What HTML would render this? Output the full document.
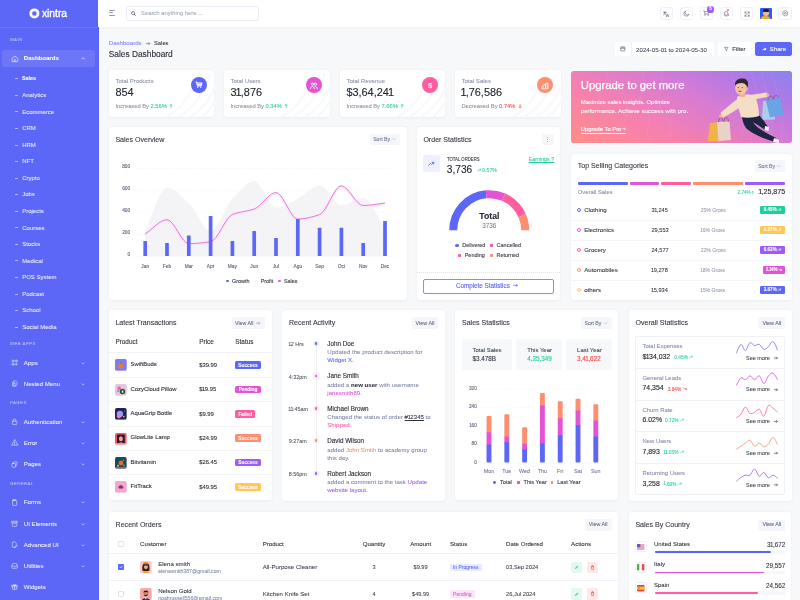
<!DOCTYPE html>
<html><head><meta charset="utf-8"><title>Sales Dashboard</title>
<style>
*{box-sizing:border-box;margin:0;padding:0}
html,body{width:800px;height:600px;overflow:hidden}
body{position:relative;will-change:transform;background:#f7f8f9;font-family:"Liberation Sans",Arial,sans-serif;color:#262a33}
.t{position:absolute;white-space:nowrap;line-height:1;-webkit-text-stroke:0.07px currentColor}
svg{position:absolute;overflow:visible}
</style></head><body>

<div style="position:absolute;left:0px;top:0px;width:98.6px;height:600px;background:#5c67f7;border-right:0.8px solid #5560f2;"></div>
<div style="position:absolute;left:98.6px;top:0px;width:0.6000000000000085px;height:600px;background:#fff;"></div>
<div style="position:absolute;left:0px;top:26.5px;width:97.8px;height:0.5px;background:rgba(255,255,255,0.1);"></div>
<svg style="left:29.2px;top:7.9px" width="10.8" height="10.8" viewBox="0 0 22 22"><circle cx="11" cy="11" r="7.4" fill="none" stroke="#fff" stroke-width="5.6"/><g fill="none" stroke="rgba(92,103,247,0.35)" stroke-width="0.9"><path d="M11 3.6 C14 5 15 7 14.5 9"/><path d="M18.4 11 C17 14 15 15 13 14.5"/><path d="M11 18.4 C8 17 7 15 7.5 13"/><path d="M3.6 11 C5 8 7 7 9 7.5"/></g></svg>
<div class="t" style="top:8.65px;font-size:10.3px;color:#fff;left:41.90px;-webkit-text-stroke:0.35px #fff;">xintra</div>
<div class="t" style="top:37.90px;font-size:4.4px;color:rgba(255,255,255,0.5);letter-spacing:0.4px;left:10.00px;">MAIN</div>
<div class="t" style="top:341.70px;font-size:4.4px;color:rgba(255,255,255,0.5);letter-spacing:0.4px;left:10.00px;">WEB APPS</div>
<div class="t" style="top:401.40px;font-size:4.4px;color:rgba(255,255,255,0.5);letter-spacing:0.4px;left:10.00px;">PAGES</div>
<div class="t" style="top:481.70px;font-size:4.4px;color:rgba(255,255,255,0.5);letter-spacing:0.4px;left:10.00px;">GENERAL</div>
<div style="position:absolute;left:1.7px;top:49.7px;width:93.0px;height:17.0px;background:rgba(255,255,255,0.1);border-radius:2.5px;"></div>
<div class="t" style="top:55.27px;font-size:6.05px;color:#fff;font-weight:700;left:23.80px;">Dashboards</div>
<div style="position:absolute;left:15px;top:78.30000000000001px;width:2.8000000000000007px;height:0.5999999999999943px;background:rgba(255,255,255,0.55);"></div>
<div class="t" style="top:76.10px;font-size:5.4px;color:#fff;font-weight:700;left:22.00px;">Sales</div>
<div style="position:absolute;left:15px;top:94.86000000000001px;width:2.8000000000000007px;height:0.5999999999999943px;background:rgba(255,255,255,0.55);"></div>
<div class="t" style="top:92.11px;font-size:6.0px;color:rgba(255,255,255,0.86);left:22.20px;">Analytics</div>
<div style="position:absolute;left:15px;top:111.42000000000002px;width:2.8000000000000007px;height:0.5999999999999943px;background:rgba(255,255,255,0.55);"></div>
<div class="t" style="top:108.67px;font-size:6.0px;color:rgba(255,255,255,0.86);left:22.20px;">Ecommerce</div>
<div style="position:absolute;left:15px;top:127.97999999999999px;width:2.8000000000000007px;height:0.5999999999999943px;background:rgba(255,255,255,0.55);"></div>
<div class="t" style="top:125.23px;font-size:6.0px;color:rgba(255,255,255,0.86);left:22.20px;">CRM</div>
<div style="position:absolute;left:15px;top:144.54px;width:2.8000000000000007px;height:0.5999999999999943px;background:rgba(255,255,255,0.55);"></div>
<div class="t" style="top:141.79px;font-size:6.0px;color:rgba(255,255,255,0.86);left:22.20px;">HRM</div>
<div style="position:absolute;left:15px;top:161.1px;width:2.8000000000000007px;height:0.5999999999999943px;background:rgba(255,255,255,0.55);"></div>
<div class="t" style="top:158.35px;font-size:6.0px;color:rgba(255,255,255,0.86);left:22.20px;">NFT</div>
<div style="position:absolute;left:15px;top:177.66px;width:2.8000000000000007px;height:0.5999999999999943px;background:rgba(255,255,255,0.55);"></div>
<div class="t" style="top:174.91px;font-size:6.0px;color:rgba(255,255,255,0.86);left:22.20px;">Crypto</div>
<div style="position:absolute;left:15px;top:194.22px;width:2.8000000000000007px;height:0.5999999999999943px;background:rgba(255,255,255,0.55);"></div>
<div class="t" style="top:191.47px;font-size:6.0px;color:rgba(255,255,255,0.86);left:22.20px;">Jobs</div>
<div style="position:absolute;left:15px;top:210.78px;width:2.8000000000000007px;height:0.5999999999999943px;background:rgba(255,255,255,0.55);"></div>
<div class="t" style="top:208.03px;font-size:6.0px;color:rgba(255,255,255,0.86);left:22.20px;">Projects</div>
<div style="position:absolute;left:15px;top:227.34px;width:2.8000000000000007px;height:0.5999999999999943px;background:rgba(255,255,255,0.55);"></div>
<div class="t" style="top:224.59px;font-size:6.0px;color:rgba(255,255,255,0.86);left:22.20px;">Courses</div>
<div style="position:absolute;left:15px;top:243.9px;width:2.8000000000000007px;height:0.5999999999999943px;background:rgba(255,255,255,0.55);"></div>
<div class="t" style="top:241.15px;font-size:6.0px;color:rgba(255,255,255,0.86);left:22.20px;">Stocks</div>
<div style="position:absolute;left:15px;top:260.46px;width:2.8000000000000007px;height:0.6000000000000227px;background:rgba(255,255,255,0.55);"></div>
<div class="t" style="top:257.71px;font-size:6.0px;color:rgba(255,255,255,0.86);left:22.20px;">Medical</div>
<div style="position:absolute;left:15px;top:277.02px;width:2.8000000000000007px;height:0.6000000000000227px;background:rgba(255,255,255,0.55);"></div>
<div class="t" style="top:274.27px;font-size:6.0px;color:rgba(255,255,255,0.86);left:22.20px;">POS System</div>
<div style="position:absolute;left:15px;top:293.5799999999999px;width:2.8000000000000007px;height:0.6000000000000227px;background:rgba(255,255,255,0.55);"></div>
<div class="t" style="top:290.83px;font-size:6.0px;color:rgba(255,255,255,0.86);left:22.20px;">Podcast</div>
<div style="position:absolute;left:15px;top:310.14px;width:2.8000000000000007px;height:0.6000000000000227px;background:rgba(255,255,255,0.55);"></div>
<div class="t" style="top:307.39px;font-size:6.0px;color:rgba(255,255,255,0.86);left:22.20px;">School</div>
<div style="position:absolute;left:15px;top:326.69999999999993px;width:2.8000000000000007px;height:0.6000000000000227px;background:rgba(255,255,255,0.55);"></div>
<div class="t" style="top:323.95px;font-size:6.0px;color:rgba(255,255,255,0.86);left:22.20px;">Social Media</div>
<div class="t" style="top:359.75px;font-size:6.1px;color:rgba(255,255,255,0.9);left:23.80px;">Apps</div>
<svg style="left:80.8px;top:361.60px" width="4.2" height="3" viewBox="0 0 4.2 3"><path d="M0.6 0.6 L2.1 2.1 L3.6 0.6" fill="none" stroke="rgba(255,255,255,0.8)" stroke-width="0.65"/></svg>
<svg style="left:10.8px;top:359.20px" width="7.2" height="7.2" viewBox="0 0 24 24"><g fill="none" stroke="rgba(255,255,255,0.88)" stroke-width="1.9" stroke-linecap="round" stroke-linejoin="round"><circle cx="6.5" cy="6.5" r="3.5"/><circle cx="17.5" cy="6.5" r="3.5"/><circle cx="6.5" cy="17.5" r="3.5"/><path d="M17.5 14v7M14 17.5h7"/></g></svg>
<div class="t" style="top:380.75px;font-size:6.1px;color:rgba(255,255,255,0.9);left:23.80px;">Nested Menu</div>
<svg style="left:80.8px;top:382.60px" width="4.2" height="3" viewBox="0 0 4.2 3"><path d="M0.6 0.6 L2.1 2.1 L3.6 0.6" fill="none" stroke="rgba(255,255,255,0.8)" stroke-width="0.65"/></svg>
<svg style="left:10.8px;top:380.20px" width="7.2" height="7.2" viewBox="0 0 24 24"><g fill="none" stroke="rgba(255,255,255,0.88)" stroke-width="1.9" stroke-linecap="round" stroke-linejoin="round"><path d="M5 8v12a1 1 0 0 0 1 1h9"/><path d="M8 4a1 1 0 0 1 1-1h6l5 5v9a1 1 0 0 1-1 1H9a1 1 0 0 1-1-1z"/><path d="M12 9v4h4"/></g></svg>
<div class="t" style="top:418.65px;font-size:6.1px;color:rgba(255,255,255,0.9);left:23.80px;">Authentication</div>
<svg style="left:80.8px;top:420.50px" width="4.2" height="3" viewBox="0 0 4.2 3"><path d="M0.6 0.6 L2.1 2.1 L3.6 0.6" fill="none" stroke="rgba(255,255,255,0.8)" stroke-width="0.65"/></svg>
<svg style="left:10.8px;top:418.10px" width="7.2" height="7.2" viewBox="0 0 24 24"><g fill="none" stroke="rgba(255,255,255,0.88)" stroke-width="1.9" stroke-linecap="round" stroke-linejoin="round"><rect x="4.5" y="10.5" width="15" height="11" rx="2"/><path d="M8 10.5V7a4 4 0 0 1 8 0v3.5"/></g></svg>
<div class="t" style="top:439.95px;font-size:6.1px;color:rgba(255,255,255,0.9);left:23.80px;">Error</div>
<svg style="left:80.8px;top:441.80px" width="4.2" height="3" viewBox="0 0 4.2 3"><path d="M0.6 0.6 L2.1 2.1 L3.6 0.6" fill="none" stroke="rgba(255,255,255,0.8)" stroke-width="0.65"/></svg>
<svg style="left:10.8px;top:439.40px" width="7.2" height="7.2" viewBox="0 0 24 24"><g fill="none" stroke="rgba(255,255,255,0.88)" stroke-width="1.9" stroke-linecap="round" stroke-linejoin="round"><path d="M12 3L2 20.5h20z"/><path d="M12 10v4.5M12 17.3v0.2"/></g></svg>
<div class="t" style="top:461.45px;font-size:6.1px;color:rgba(255,255,255,0.9);left:23.80px;">Pages</div>
<svg style="left:80.8px;top:463.30px" width="4.2" height="3" viewBox="0 0 4.2 3"><path d="M0.6 0.6 L2.1 2.1 L3.6 0.6" fill="none" stroke="rgba(255,255,255,0.8)" stroke-width="0.65"/></svg>
<svg style="left:10.8px;top:460.90px" width="7.2" height="7.2" viewBox="0 0 24 24"><g fill="none" stroke="rgba(255,255,255,0.88)" stroke-width="1.9" stroke-linecap="round" stroke-linejoin="round"><rect x="3.5" y="8" width="11.5" height="13" rx="1.5"/><path d="M8 8V4.5A1.5 1.5 0 0 1 9.5 3h9A1.5 1.5 0 0 1 20 4.5v10a1.5 1.5 0 0 1-1.5 1.5H15"/></g></svg>
<div class="t" style="top:499.45px;font-size:6.1px;color:rgba(255,255,255,0.9);left:23.80px;">Forms</div>
<svg style="left:80.8px;top:501.30px" width="4.2" height="3" viewBox="0 0 4.2 3"><path d="M0.6 0.6 L2.1 2.1 L3.6 0.6" fill="none" stroke="rgba(255,255,255,0.8)" stroke-width="0.65"/></svg>
<svg style="left:10.8px;top:498.90px" width="7.2" height="7.2" viewBox="0 0 24 24"><g fill="none" stroke="rgba(255,255,255,0.88)" stroke-width="1.9" stroke-linecap="round" stroke-linejoin="round"><rect x="5" y="4" width="14" height="17.5" rx="2"/><path d="M9 2.5h6v3H9z"/></g></svg>
<div class="t" style="top:520.65px;font-size:6.1px;color:rgba(255,255,255,0.9);left:23.80px;">UI Elements</div>
<svg style="left:80.8px;top:522.50px" width="4.2" height="3" viewBox="0 0 4.2 3"><path d="M0.6 0.6 L2.1 2.1 L3.6 0.6" fill="none" stroke="rgba(255,255,255,0.8)" stroke-width="0.65"/></svg>
<svg style="left:10.8px;top:520.10px" width="7.2" height="7.2" viewBox="0 0 24 24"><g fill="none" stroke="rgba(255,255,255,0.88)" stroke-width="1.9" stroke-linecap="round" stroke-linejoin="round"><path d="M3 4h18v4H3z"/><path d="M4.5 8v11.5a1.5 1.5 0 0 0 1.5 1.5h12a1.5 1.5 0 0 0 1.5-1.5V8"/><path d="M9.5 12h5"/></g></svg>
<div class="t" style="top:541.65px;font-size:6.1px;color:rgba(255,255,255,0.9);left:23.80px;">Advanced UI</div>
<svg style="left:80.8px;top:543.50px" width="4.2" height="3" viewBox="0 0 4.2 3"><path d="M0.6 0.6 L2.1 2.1 L3.6 0.6" fill="none" stroke="rgba(255,255,255,0.8)" stroke-width="0.65"/></svg>
<svg style="left:10.8px;top:541.10px" width="7.2" height="7.2" viewBox="0 0 24 24"><g fill="none" stroke="rgba(255,255,255,0.88)" stroke-width="1.9" stroke-linecap="round" stroke-linejoin="round"><path d="M14 21H6a1.5 1.5 0 0 1-1.5-1.5v-15A1.5 1.5 0 0 1 6 3h7l5 5v3"/><path d="M13 21l1-3 5-5 2 2-5 5z"/></g></svg>
<div class="t" style="top:562.75px;font-size:6.1px;color:rgba(255,255,255,0.9);left:23.80px;">Utilities</div>
<svg style="left:80.8px;top:564.60px" width="4.2" height="3" viewBox="0 0 4.2 3"><path d="M0.6 0.6 L2.1 2.1 L3.6 0.6" fill="none" stroke="rgba(255,255,255,0.8)" stroke-width="0.65"/></svg>
<svg style="left:10.8px;top:562.20px" width="7.2" height="7.2" viewBox="0 0 24 24"><g fill="none" stroke="rgba(255,255,255,0.88)" stroke-width="1.9" stroke-linecap="round" stroke-linejoin="round"><path d="M3 13l3-8h12l3 8v6a2 2 0 0 1-2 2H5a2 2 0 0 1-2-2z"/><path d="M3 13h5l1.5 2.5h5L16 13h5"/></g></svg>
<div class="t" style="top:583.95px;font-size:6.1px;color:rgba(255,255,255,0.9);left:23.80px;">Widgets</div>
<svg style="left:10.8px;top:583.40px" width="7.2" height="7.2" viewBox="0 0 24 24"><g fill="none" stroke="rgba(255,255,255,0.88)" stroke-width="1.9" stroke-linecap="round" stroke-linejoin="round"><rect x="3" y="8" width="18" height="4.5"/><path d="M5 12.5v8.5h14v-8.5M12 8v13"/><path d="M12 8C10 4 6.5 4 7 6.5S12 8 12 8zM12 8c2-4 5.5-4 5-1.5S12 8 12 8z"/></g></svg>
<svg style="left:80.8px;top:56.9px" width="4.4" height="3" viewBox="0 0 4.4 3"><path d="M0.6 2.3 L2.2 0.7 L3.8 2.3" fill="none" stroke="#fff" stroke-width="0.7"/></svg>
<svg style="left:10.5px;top:54.5px" width="7.8" height="7.6" viewBox="0 0 24 24"><path d="M3 10.5 L12 3.5 L21 10.5 V19.5 A1.5 1.5 0 0 1 19.5 21 H4.5 A1.5 1.5 0 0 1 3 19.5 Z M9.5 21 V16.5 A2.5 2.5 0 0 1 14.5 16.5 V21" fill="none" stroke="#fff" stroke-width="1.9" stroke-linejoin="round"/></svg>
<div style="position:absolute;left:98px;top:0px;width:702px;height:27px;background:#fff;box-shadow:0 0.5px 3px rgba(20,30,60,0.05);"></div>
<div style="position:absolute;left:108.5px;top:9.799999999999999px;width:6.799999999999997px;height:0.8000000000000007px;background:#8f98ad;border-radius:0.4px;"></div>
<div style="position:absolute;left:108.5px;top:12.4px;width:4.799999999999997px;height:0.8000000000000007px;background:#8f98ad;border-radius:0.4px;"></div>
<div style="position:absolute;left:108.5px;top:15.0px;width:6.799999999999997px;height:0.8000000000000007px;background:#8f98ad;border-radius:0.4px;"></div>
<div style="position:absolute;left:125.5px;top:6.4px;width:133.89999999999998px;height:14.200000000000001px;border:0.5px solid #e9ecf4;border-radius:2.5px;background:#fff;"></div>
<svg style="left:130.6px;top:11.0px" width="5" height="5" viewBox="0 0 10 10"><circle cx="4.3" cy="4.3" r="3.1" fill="none" stroke="#4f5668" stroke-width="1.4"/><path d="M6.6 6.6 L9 9" stroke="#4f5668" stroke-width="1.5" stroke-linecap="round"/></svg>
<div class="t" style="top:10.68px;font-size:5.85px;color:#a3a9b9;left:141.00px;">Search anything here ...</div>
<div style="position:absolute;left:659.5px;top:7.1px;width:13.299999999999955px;height:13.200000000000001px;border:0.5px solid #eef0f6;border-radius:2.5px;background:#fff;"></div>
<div style="position:absolute;left:679.5px;top:7.1px;width:13.299999999999955px;height:13.200000000000001px;border:0.5px solid #eef0f6;border-radius:2.5px;background:#fff;"></div>
<div style="position:absolute;left:699.5px;top:7.1px;width:13.299999999999955px;height:13.200000000000001px;border:0.5px solid #eef0f6;border-radius:2.5px;background:#fff;"></div>
<div style="position:absolute;left:719.8px;top:7.1px;width:13.299999999999955px;height:13.200000000000001px;border:0.5px solid #eef0f6;border-radius:2.5px;background:#fff;"></div>
<div style="position:absolute;left:740px;top:7.1px;width:13.299999999999955px;height:13.200000000000001px;border:0.5px solid #eef0f6;border-radius:2.5px;background:#fff;"></div>
<div style="position:absolute;left:760px;top:7.9px;width:12px;height:11.6px;background:#3d5af1;border-radius:1.5px;"></div>
<div style="position:absolute;left:778.4px;top:7.1px;width:13.200000000000045px;height:13.200000000000001px;border:0.5px solid #eef0f6;border-radius:2.5px;background:#fff;"></div>
<div class="t" style="top:40.45px;font-size:6.1px;color:#7b84f5;left:108.75px;">Dashboards</div>
<svg style="left:0;top:0" width="800" height="600" viewBox="0 0 800 600"><path d="M146.20,43.60 H149.80 M148.70,42.50 L149.80,43.60 L148.70,44.70" fill="none" stroke="#555a66" stroke-width="0.55" stroke-linecap="round" stroke-linejoin="round"/></svg>
<div class="t" style="top:40.60px;font-size:5.8px;color:#333;left:154.00px;">Sales</div>
<div class="t" style="top:50.23px;font-size:8.35px;color:#2a2e38;-webkit-text-stroke:0.12px #2a2e38;left:108.75px;">Sales Dashboard</div>
<div style="position:absolute;left:614.75px;top:42.1px;width:99.04999999999995px;height:14.299999999999997px;background:#fff;border-radius:2.5px;"></div>
<div style="position:absolute;left:614.75px;top:42.1px;width:16.75px;height:14.299999999999997px;background:#fff;border-right:0.5px solid #f0f1f5;border-radius:2.5px 0 0 2.5px;"></div>
<svg style="left:620.2px;top:46.4px" width="5.6" height="5.6" viewBox="0 0 24 24"><g fill="none" stroke="#4f5668" stroke-width="2.6" stroke-linejoin="round"><rect x="3" y="4.5" width="18" height="16.5" rx="2"/><path d="M3 10h18M8 2.5v4M16 2.5v4"/></g></svg>
<div class="t" style="top:46.50px;font-size:6.2px;color:#454a56;left:636.00px;">2024-05-0<span style="margin:0 -0.08em">1</span> to 2024-05-30</div>
<div style="position:absolute;left:718px;top:42.1px;width:32.89999999999998px;height:14.299999999999997px;background:#fff;border-radius:2.5px;"></div>
<div class="t" style="top:46.55px;font-size:5.9px;color:#333846;-webkit-text-stroke:0.1px #333846;left:732.30px;">Filter</div>
<div style="position:absolute;left:755.4px;top:42.1px;width:36.60000000000002px;height:14.299999999999997px;background:#5c67f7;border-radius:2.5px;"></div>
<div class="t" style="top:46.40px;font-size:6.2px;color:#fff;-webkit-text-stroke:0.1px #fff;left:769.60px;">Share</div>
<svg style="left:724.2px;top:47.2px" width="4.6" height="4.2" viewBox="0 0 24 22"><path d="M2 2h20l-7.5 9v8l-5-2v-6z" fill="none" stroke="#4f5668" stroke-width="2.8" stroke-linejoin="round"/></svg>
<svg style="left:761.8px;top:46.7px" width="5" height="4.6" viewBox="0 0 24 22"><path d="M13 2l9 8-9 8v-5C7 13 4 15 2 19c0-7 4-11 11-12z" fill="#fff"/></svg>
<div style="position:absolute;left:109px;top:70.2px;width:105px;height:46.8px;background:#fff;border-radius:3.5px;box-shadow:0 0.5px 3px rgba(30,40,80,0.055);"></div>
<div style="position:absolute;left:224px;top:70.2px;width:105.5px;height:46.8px;background:#fff;border-radius:3.5px;box-shadow:0 0.5px 3px rgba(30,40,80,0.055);"></div>
<div style="position:absolute;left:340px;top:70.2px;width:105px;height:46.8px;background:#fff;border-radius:3.5px;box-shadow:0 0.5px 3px rgba(30,40,80,0.055);"></div>
<div style="position:absolute;left:455px;top:70.2px;width:105.5px;height:46.8px;background:#fff;border-radius:3.5px;box-shadow:0 0.5px 3px rgba(30,40,80,0.055);"></div>
<div style="position:absolute;left:571px;top:70.5px;width:221px;height:72.5px;border-radius:3.5px;background:linear-gradient(60deg,#ff8c8f 0%,#f97fae 35%,#d77ad8 65%,#9f7ef5 100%);"></div>
<div style="position:absolute;left:109px;top:127.3px;width:297.8px;height:172.89999999999998px;background:#fff;border-radius:3.5px;box-shadow:0 0.5px 3px rgba(30,40,80,0.055);"></div>
<div style="position:absolute;left:416.7px;top:127.3px;width:143.8px;height:172.89999999999998px;background:#fff;border-radius:3.5px;box-shadow:0 0.5px 3px rgba(30,40,80,0.055);"></div>
<div style="position:absolute;left:571px;top:154.2px;width:221px;height:145.8px;background:#fff;border-radius:3.5px;box-shadow:0 0.5px 3px rgba(30,40,80,0.055);"></div>
<div style="position:absolute;left:109px;top:310.3px;width:163px;height:189.89999999999998px;background:#fff;border-radius:3.5px;box-shadow:0 0.5px 3px rgba(30,40,80,0.055);"></div>
<div style="position:absolute;left:282.3px;top:310.3px;width:162.7px;height:190.3px;background:#fff;border-radius:3.5px;box-shadow:0 0.5px 3px rgba(30,40,80,0.055);"></div>
<div style="position:absolute;left:455.3px;top:310.3px;width:162.90000000000003px;height:190.2px;background:#fff;border-radius:3.5px;box-shadow:0 0.5px 3px rgba(30,40,80,0.055);"></div>
<div style="position:absolute;left:628.8px;top:310.3px;width:163.20000000000005px;height:190.5px;background:#fff;border-radius:3.5px;box-shadow:0 0.5px 3px rgba(30,40,80,0.055);"></div>
<div style="position:absolute;left:108.8px;top:512.2px;width:509.7px;height:107.79999999999995px;background:#fff;border-radius:3.5px;box-shadow:0 0.5px 3px rgba(30,40,80,0.055);"></div>
<div style="position:absolute;left:629px;top:512.2px;width:162.39999999999998px;height:107.79999999999995px;background:#fff;border-radius:3.5px;box-shadow:0 0.5px 3px rgba(30,40,80,0.055);"></div>
<svg style="left:164px;top:70.2px" width="50" height="46.8" viewBox="0 0 50 46.8"><g fill="none" stroke="#f8f9fb" stroke-width="2.2"><path d="M2 47 C20 38 30 20 36 0"/><path d="M14 47 C30 38 40 22 46 4"/><path d="M26 47 C40 38 48 26 52 14"/><path d="M38 47 C46 40 50 34 53 28"/></g></svg>
<div class="t" style="top:78.17px;font-size:6.05px;color:#8b92a6;left:115.40px;">Total Products</div>
<div class="t" style="top:86.85px;font-size:10.9px;color:#23262f;-webkit-text-stroke:0.12px #23262f;left:115.40px;">854</div>
<div class="t" style="left:115.4px;top:103.60px;font-size:5.75px;color:#8b92a6">Increased By <span style="color:#21ce9e">2.56%</span> <svg style="position:relative;display:inline-block;vertical-align:-0.3px;margin-left:0.6px" width="4.2" height="4.2" viewBox="0 0 10 10" preserveAspectRatio="none"><path d="M5,9 V1 M2,4 L5,1 L8,4" fill="none" stroke="#21ce9e" stroke-width="1.55" stroke-linecap="round" stroke-linejoin="round"/></svg></div>
<div style="position:absolute;left:190.75px;top:76.95px;width:16.5px;height:16.5px;border-radius:50%;background:#5c67f7"></div>
<svg style="left:195.2px;top:81.4px" width="7.6" height="7.6" viewBox="0 0 24 24"><g fill="none" stroke="#fff" stroke-width="3.4" stroke-linejoin="round"><path d="M2.5 3.5h3l2 12h12l2-9H6.5"/><path d="M8 10.5h12"/></g><circle cx="8.5" cy="20" r="2" fill="#fff"/><circle cx="18" cy="20" r="2" fill="#fff"/></svg>
<svg style="left:279px;top:70.2px" width="50" height="46.8" viewBox="0 0 50 46.8"><g fill="none" stroke="#f8f9fb" stroke-width="2.2"><path d="M2 47 C20 38 30 20 36 0"/><path d="M14 47 C30 38 40 22 46 4"/><path d="M26 47 C40 38 48 26 52 14"/><path d="M38 47 C46 40 50 34 53 28"/></g></svg>
<div class="t" style="top:78.17px;font-size:6.05px;color:#8b92a6;left:230.40px;">Total Users</div>
<div class="t" style="top:86.85px;font-size:10.9px;color:#23262f;-webkit-text-stroke:0.12px #23262f;left:230.40px;">3<span style="margin:0 -0.08em">1</span>,876</div>
<div class="t" style="left:230.4px;top:103.60px;font-size:5.75px;color:#8b92a6">Increased By <span style="color:#21ce9e">0.34%</span> <svg style="position:relative;display:inline-block;vertical-align:-0.3px;margin-left:0.6px" width="4.2" height="4.2" viewBox="0 0 10 10" preserveAspectRatio="none"><path d="M5,9 V1 M2,4 L5,1 L8,4" fill="none" stroke="#21ce9e" stroke-width="1.55" stroke-linecap="round" stroke-linejoin="round"/></svg></div>
<div style="position:absolute;left:305.75px;top:76.95px;width:16.5px;height:16.5px;border-radius:50%;background:#e354d4"></div>
<svg style="left:310.10px;top:81.70px" width="7.8" height="7.4" viewBox="0 0 26 24"><g fill="none" stroke="#fff" stroke-width="2.8" stroke-linecap="round"><circle cx="8" cy="6.5" r="3.8"/><circle cx="18" cy="6.5" r="3.8"/><path d="M1.5 22c0-5 3-7.5 6.5-7.5s6.5 2.5 6.5 7.5"/><path d="M16.5 14.6c4.5-0.5 7.5 2 7.5 7.4"/></g></svg>
<svg style="left:395px;top:70.2px" width="50" height="46.8" viewBox="0 0 50 46.8"><g fill="none" stroke="#f8f9fb" stroke-width="2.2"><path d="M2 47 C20 38 30 20 36 0"/><path d="M14 47 C30 38 40 22 46 4"/><path d="M26 47 C40 38 48 26 52 14"/><path d="M38 47 C46 40 50 34 53 28"/></g></svg>
<div class="t" style="top:78.17px;font-size:6.05px;color:#8b92a6;left:346.40px;">Total Revenue</div>
<div class="t" style="top:86.85px;font-size:10.9px;color:#23262f;-webkit-text-stroke:0.12px #23262f;left:346.40px;">$3,64,24<span style="margin:0 -0.08em">1</span></div>
<div class="t" style="left:346.4px;top:103.60px;font-size:5.75px;color:#8b92a6">Increased By <span style="color:#21ce9e">7.66%</span> <svg style="position:relative;display:inline-block;vertical-align:-0.3px;margin-left:0.6px" width="4.2" height="4.2" viewBox="0 0 10 10" preserveAspectRatio="none"><path d="M5,9 V1 M2,4 L5,1 L8,4" fill="none" stroke="#21ce9e" stroke-width="1.55" stroke-linecap="round" stroke-linejoin="round"/></svg></div>
<div style="position:absolute;left:421.75px;top:76.95px;width:16.5px;height:16.5px;border-radius:50%;background:#ff5d9f"></div>
<div class="t" style="top:81.65px;font-size:7.5px;color:#fff;left:430.00px;transform:translateX(-50%);">$</div>
<svg style="left:510px;top:70.2px" width="50" height="46.8" viewBox="0 0 50 46.8"><g fill="none" stroke="#f8f9fb" stroke-width="2.2"><path d="M2 47 C20 38 30 20 36 0"/><path d="M14 47 C30 38 40 22 46 4"/><path d="M26 47 C40 38 48 26 52 14"/><path d="M38 47 C46 40 50 34 53 28"/></g></svg>
<div class="t" style="top:78.17px;font-size:6.05px;color:#8b92a6;left:461.40px;">Total Sales</div>
<div class="t" style="top:86.85px;font-size:10.9px;color:#23262f;-webkit-text-stroke:0.12px #23262f;left:461.40px;"><span style="margin:0 -0.08em">1</span>,76,586</div>
<div class="t" style="left:461.4px;top:103.60px;font-size:5.75px;color:#8b92a6">Decreased By <span style="color:#fb4242">0.74%</span> <svg style="position:relative;display:inline-block;vertical-align:-0.3px;margin-left:0.6px" width="4.2" height="4.2" viewBox="0 0 10 10" preserveAspectRatio="none"><path d="M5,1 V9 M2,6 L5,9 L8,6" fill="none" stroke="#fb4242" stroke-width="1.55" stroke-linecap="round" stroke-linejoin="round"/></svg></div>
<div style="position:absolute;left:536.75px;top:76.95px;width:16.5px;height:16.5px;border-radius:50%;background:#ff8e6f"></div>
<svg style="left:541.10px;top:81.90px" width="7.8" height="7.2" viewBox="0 0 26 24"><g fill="none" stroke="#fff" stroke-width="2.8" stroke-linejoin="round" stroke-linecap="round"><path d="M2.5 21.5V14.5L20 3.5h3.5v18z"/><path d="M9 21.5v-6M15 21.5V10M20.5 21.5V6"/></g></svg>
<div class="t" style="top:135.88px;font-size:7.05px;color:#343842;-webkit-text-stroke:0.1px #343842;left:115.40px;">Sales Overview</div>
<div style="position:absolute;left:369.7px;top:133.9px;width:30.0px;height:11.099999999999994px;background:#f5f6f9;border-radius:2px;"></div>
<div class="t" style="top:137.07px;font-size:5.15px;color:#6b7390;left:373.20px;">Sort By</div>
<svg style="left:392.10px;top:138.35px" width="3.6" height="2.4" viewBox="0 0 3.6 2.4"><path d="M0.4 0.5 L1.8 1.9 L3.2 0.5" fill="none" stroke="#8a90a8" stroke-width="0.45"/></svg>
<div class="t" style="top:164.90px;font-size:4.8px;color:#5f6680;-webkit-text-stroke:0.12px #5f6680;right:669.80px;">800</div>
<div class="t" style="top:186.90px;font-size:4.8px;color:#5f6680;-webkit-text-stroke:0.12px #5f6680;right:669.80px;">600</div>
<div class="t" style="top:208.90px;font-size:4.8px;color:#5f6680;-webkit-text-stroke:0.12px #5f6680;right:669.80px;">400</div>
<div class="t" style="top:230.90px;font-size:4.8px;color:#5f6680;-webkit-text-stroke:0.12px #5f6680;right:669.80px;">200</div>
<div class="t" style="top:253.40px;font-size:4.8px;color:#5f6680;-webkit-text-stroke:0.12px #5f6680;right:669.80px;">0</div>
<div class="t" style="top:264.50px;font-size:4.8px;color:#5f6680;-webkit-text-stroke:0.12px #5f6680;left:145.20px;transform:translateX(-50%);">Jan</div>
<div class="t" style="top:264.50px;font-size:4.8px;color:#5f6680;-webkit-text-stroke:0.12px #5f6680;left:167.00px;transform:translateX(-50%);">Feb</div>
<div class="t" style="top:264.50px;font-size:4.8px;color:#5f6680;-webkit-text-stroke:0.12px #5f6680;left:188.80px;transform:translateX(-50%);">Mar</div>
<div class="t" style="top:264.50px;font-size:4.8px;color:#5f6680;-webkit-text-stroke:0.12px #5f6680;left:210.60px;transform:translateX(-50%);">Apr</div>
<div class="t" style="top:264.50px;font-size:4.8px;color:#5f6680;-webkit-text-stroke:0.12px #5f6680;left:232.40px;transform:translateX(-50%);">May</div>
<div class="t" style="top:264.50px;font-size:4.8px;color:#5f6680;-webkit-text-stroke:0.12px #5f6680;left:254.20px;transform:translateX(-50%);">Jun</div>
<div class="t" style="top:264.50px;font-size:4.8px;color:#5f6680;-webkit-text-stroke:0.12px #5f6680;left:276.00px;transform:translateX(-50%);">Jul</div>
<div class="t" style="top:264.50px;font-size:4.8px;color:#5f6680;-webkit-text-stroke:0.12px #5f6680;left:297.80px;transform:translateX(-50%);">Agu</div>
<div class="t" style="top:264.50px;font-size:4.8px;color:#5f6680;-webkit-text-stroke:0.12px #5f6680;left:319.60px;transform:translateX(-50%);">Sep</div>
<div class="t" style="top:264.50px;font-size:4.8px;color:#5f6680;-webkit-text-stroke:0.12px #5f6680;left:341.40px;transform:translateX(-50%);">Oct</div>
<div class="t" style="top:264.50px;font-size:4.8px;color:#5f6680;-webkit-text-stroke:0.12px #5f6680;left:363.20px;transform:translateX(-50%);">Nov</div>
<div class="t" style="top:264.50px;font-size:4.8px;color:#5f6680;-webkit-text-stroke:0.12px #5f6680;left:385.00px;transform:translateX(-50%);">Dec</div>
<svg style="left:0;top:0" width="800" height="600" viewBox="0 0 800 600"><line x1="133" x2="395" y1="168.50" y2="168.50" stroke="#eceef3" stroke-width="0.5" stroke-dasharray="1.2 1.2"/><line x1="133" x2="395" y1="190.50" y2="190.50" stroke="#eceef3" stroke-width="0.5" stroke-dasharray="1.2 1.2"/><line x1="133" x2="395" y1="212.50" y2="212.50" stroke="#eceef3" stroke-width="0.5" stroke-dasharray="1.2 1.2"/><line x1="133" x2="395" y1="234.50" y2="234.50" stroke="#eceef3" stroke-width="0.5" stroke-dasharray="1.2 1.2"/><line x1="133" x2="395" y1="256.3" y2="256.3" stroke="#eceef3" stroke-width="0.5"/><path d="M145.20,230.70 C152.47,216.40 159.73,187.80 167.00,187.80 C174.27,187.80 181.53,196.62 188.80,203.20 C196.07,209.78 203.33,230.70 210.60,230.70 C217.87,230.70 225.13,206.36 232.40,198.80 C239.67,191.24 246.93,181.20 254.20,181.20 C261.47,181.20 268.73,207.60 276.00,207.60 C283.27,207.60 290.53,202.32 297.80,198.80 C305.07,195.28 312.33,185.60 319.60,185.60 C326.87,185.60 334.13,205.40 341.40,205.40 C348.67,205.40 355.93,197.70 363.20,197.70 C370.47,197.70 377.73,218.23 385.00,228.50 L385.00,256 L145.20,256 Z" fill="#f4f4f7"/><path d="M145.20,234.00 C152.47,229.23 159.73,219.70 167.00,219.70 C174.27,219.70 181.53,243.57 188.80,243.57 C196.07,243.57 203.33,242.87 210.60,241.70 C217.87,240.53 225.13,217.42 232.40,214.42 C239.67,211.42 246.93,211.74 254.20,209.03 C261.47,206.32 268.73,192.53 276.00,192.53 C283.27,192.53 290.53,219.04 297.80,219.04 C305.07,219.04 312.33,217.13 319.60,214.53 C326.87,211.93 334.13,185.82 341.40,185.82 C348.67,185.82 355.93,205.51 363.20,205.51 C370.47,205.51 377.73,203.82 385.00,202.98" fill="none" stroke="#fbe7f8" stroke-width="2.2" transform="translate(0,1.2)"/><path d="M145.20,234.00 C152.47,229.23 159.73,219.70 167.00,219.70 C174.27,219.70 181.53,243.57 188.80,243.57 C196.07,243.57 203.33,242.87 210.60,241.70 C217.87,240.53 225.13,217.42 232.40,214.42 C239.67,211.42 246.93,211.74 254.20,209.03 C261.47,206.32 268.73,192.53 276.00,192.53 C283.27,192.53 290.53,219.04 297.80,219.04 C305.07,219.04 312.33,217.13 319.60,214.53 C326.87,211.93 334.13,185.82 341.40,185.82 C348.67,185.82 355.93,205.51 363.20,205.51 C370.47,205.51 377.73,203.82 385.00,202.98" fill="none" stroke="#e354d4" stroke-width="0.8"/><rect x="143.35" y="241.04" width="3.7" height="14.96" rx="0.5" fill="#5c67f7"/><rect x="165.15" y="243.02" width="3.7" height="12.98" rx="0.5" fill="#5c67f7"/><rect x="186.95" y="235.43" width="3.7" height="20.57" rx="0.5" fill="#5c67f7"/><rect x="208.75" y="216.07" width="3.7" height="39.93" rx="0.5" fill="#5c67f7"/><rect x="230.55" y="241.04" width="3.7" height="14.96" rx="0.5" fill="#5c67f7"/><rect x="252.35" y="231.03" width="3.7" height="24.97" rx="0.5" fill="#5c67f7"/><rect x="274.15" y="237.96" width="3.7" height="18.04" rx="0.5" fill="#5c67f7"/><rect x="295.95" y="219.04" width="3.7" height="36.96" rx="0.5" fill="#5c67f7"/><rect x="317.75" y="227.73" width="3.7" height="28.27" rx="0.5" fill="#5c67f7"/><rect x="339.55" y="227.73" width="3.7" height="28.27" rx="0.5" fill="#5c67f7"/><rect x="361.35" y="243.02" width="3.7" height="12.98" rx="0.5" fill="#5c67f7"/><rect x="383.15" y="221.02" width="3.7" height="34.98" rx="0.5" fill="#5c67f7"/></svg>
<div style="position:absolute;left:226.0px;top:279.6px;width:2.9px;height:2.9px;border-radius:50%;background:#5c67f7"></div>
<div class="t" style="top:278.90px;font-size:5.4px;color:#3a3f4c;-webkit-text-stroke:0.12px #3a3f4c;left:232.00px;">Growth</div>
<div style="position:absolute;left:254.6px;top:279.6px;width:2.9px;height:2.9px;border-radius:50%;background:#ececf0"></div>
<div class="t" style="top:278.90px;font-size:5.4px;color:#3a3f4c;-webkit-text-stroke:0.12px #3a3f4c;left:260.70px;">Profit</div>
<div style="position:absolute;left:278.1px;top:279.6px;width:2.9px;height:2.9px;border-radius:50%;background:#e354d4"></div>
<div class="t" style="top:278.90px;font-size:5.4px;color:#3a3f4c;-webkit-text-stroke:0.12px #3a3f4c;left:284.00px;">Sales</div>
<div class="t" style="top:135.88px;font-size:7.05px;color:#343842;-webkit-text-stroke:0.1px #343842;left:423.40px;">Order Statistics</div>
<div style="position:absolute;left:541.7px;top:134px;width:12.299999999999955px;height:11.199999999999989px;background:#f5f6f9;border-radius:2px;"></div>
<div class="t" style="top:137.10px;font-size:5px;color:#8a90a0;left:547.85px;transform:translateX(-50%);">&#8942;</div>
<div style="position:absolute;left:423.4px;top:155.4px;width:16.600000000000023px;height:16.5px;background:#eef0fe;border-radius:2px;"></div>
<svg style="left:428.4px;top:160.6px" width="6.6" height="5.4" viewBox="0 0 24 20"><path d="M2 16 L9 9 L13 13 L21 5 M15 5 H21 V11" fill="none" stroke="#5c67f7" stroke-width="3.4" stroke-linecap="round" stroke-linejoin="round"/></svg>
<div class="t" style="top:157.55px;font-size:4.9px;color:#3e4250;-webkit-text-stroke:0.12px #3e4250;left:447.10px;transform:scaleX(0.87);transform-origin:0 0;">TOTAL ORDERS</div>
<div class="t" style="top:164.70px;font-size:10.2px;color:#23262f;-webkit-text-stroke:0.12px #23262f;left:446.80px;">3,736</div>
<div class="t" style="left:476.6px;top:167.6px;font-size:5.3px;color:#21ce9e"><svg style="position:relative;display:inline-block;vertical-align:-0.3px;margin-left:0px" width="4" height="4" viewBox="0 0 10 10" preserveAspectRatio="none"><path d="M1,8 L4,5 L6,7 L9.2,3 M6,2.8 H9.2 V6" fill="none" stroke="#21ce9e" stroke-width="1.38" stroke-linecap="round" stroke-linejoin="round"/></svg>&nbsp;0.57%</div>
<div class="t" style="top:156.95px;font-size:5.3px;color:#21ce9e;left:528.80px;text-decoration:underline;text-decoration-thickness:0.4px;text-underline-offset:0.5px;">Earnings ?</div>
<svg style="left:0;top:0" width="800" height="600" viewBox="0 0 800 600"><path d="M453.25,230.20 A36,36 0 0 1 486.11,194.34" fill="none" stroke="#5c67f7" stroke-width="8"/><path d="M486.11,194.34 A36,36 0 0 1 503.55,197.16" fill="none" stroke="#e354d4" stroke-width="8"/><path d="M503.55,197.16 A36,36 0 0 1 522.14,215.56" fill="none" stroke="#ff5d9f" stroke-width="8"/><path d="M522.14,215.56 A36,36 0 0 1 525.25,230.20" fill="none" stroke="#ff8e6f" stroke-width="8"/></svg>
<div class="t" style="top:212.05px;font-size:8.7px;color:#23262f;font-weight:700;left:489.40px;transform:translateX(-50%);">Total</div>
<div class="t" style="top:223.05px;font-size:6.3px;color:#7a8090;left:489.20px;transform:translateX(-50%);">3736</div>
<div style="position:absolute;left:455.4px;top:243.6px;width:3.2px;height:3.2px;border-radius:50%;background:#5c67f7"></div>
<div class="t" style="top:243.05px;font-size:5.5px;color:#3a3f4c;-webkit-text-stroke:0.12px #3a3f4c;left:462.20px;">Delivered</div>
<div style="position:absolute;left:489.79999999999995px;top:243.6px;width:3.2px;height:3.2px;border-radius:0.7px;background:#e354d4"></div>
<div class="t" style="top:243.05px;font-size:5.5px;color:#3a3f4c;-webkit-text-stroke:0.12px #3a3f4c;left:496.60px;">Cancelled</div>
<div style="position:absolute;left:457.9px;top:253.9px;width:3.2px;height:3.2px;border-radius:0.7px;background:#ff5d9f"></div>
<div class="t" style="top:253.35px;font-size:5.5px;color:#3a3f4c;-webkit-text-stroke:0.12px #3a3f4c;left:464.70px;">Pending</div>
<div style="position:absolute;left:489.7px;top:253.9px;width:3.2px;height:3.2px;border-radius:0.7px;background:#ff8e6f"></div>
<div class="t" style="top:253.35px;font-size:5.5px;color:#3a3f4c;-webkit-text-stroke:0.12px #3a3f4c;left:496.50px;">Returned</div>
<div style="position:absolute;left:416.7px;top:271.5px;width:143.8px;height:1.0px;border-top:0.8px dotted #e2e4ec;"></div>
<div style="position:absolute;left:423px;top:279px;width:131px;height:14.600000000000023px;border:0.6px solid rgba(92,103,247,0.75);border-radius:2px;"></div>
<div class="t" style="top:282.85px;font-size:6.3px;color:#5c67f7;-webkit-text-stroke:0.12px #5c67f7;left:455.90px;">Complete Statistics<svg style="position:relative;display:inline-block;vertical-align:-0.3px;margin-left:3.2px" width="4.8" height="4.8" viewBox="0 0 10 10" preserveAspectRatio="none"><path d="M1,5 H9 M6.6,2.9 L9,5 L6.6,7.1" fill="none" stroke="#5c67f7" stroke-width="1.46" stroke-linecap="round" stroke-linejoin="round"/></svg></div>
<div class="t" style="top:162.17px;font-size:7.05px;color:#343842;-webkit-text-stroke:0.1px #343842;left:577.80px;">Top Selling Categories</div>
<div style="position:absolute;left:754.7px;top:160.3px;width:30.299999999999955px;height:11.899999999999977px;background:#f5f6f9;border-radius:2px;"></div>
<div class="t" style="top:163.88px;font-size:5.15px;color:#6b7390;left:758.20px;">Sort By</div>
<svg style="left:777.40px;top:165.15px" width="3.6" height="2.4" viewBox="0 0 3.6 2.4"><path d="M0.4 0.5 L1.8 1.9 L3.2 0.5" fill="none" stroke="#8a90a8" stroke-width="0.45"/></svg>
<div style="position:absolute;left:577.7px;top:182.4px;width:50.0px;height:2.1999999999999886px;background:#5c67f7;border-radius:1px;"></div>
<div style="position:absolute;left:629.6px;top:182.4px;width:29.799999999999955px;height:2.1999999999999886px;background:#e354d4;border-radius:1px;"></div>
<div style="position:absolute;left:661.4px;top:182.4px;width:30.100000000000023px;height:2.1999999999999886px;background:#ff5d9f;border-radius:1px;"></div>
<div style="position:absolute;left:693.3px;top:182.4px;width:49.90000000000009px;height:2.1999999999999886px;background:#ff8e6f;border-radius:1px;"></div>
<div style="position:absolute;left:745.2px;top:182.4px;width:39.799999999999955px;height:2.1999999999999886px;background:#9e5cf7;border-radius:1px;"></div>
<div class="t" style="top:189.88px;font-size:5.85px;color:#858ca0;left:577.80px;">Overall Sales</div>
<div class="t" style="top:190.70px;font-size:4.6px;color:#21ce9e;right:45.20px;">2.74%<svg style="position:relative;display:inline-block;vertical-align:0px;margin-left:0.8px" width="3.4" height="3.4" viewBox="0 0 10 10" preserveAspectRatio="none"><path d="M5,9 V1 M2,4 L5,1 L8,4" fill="none" stroke="#21ce9e" stroke-width="1.62" stroke-linecap="round" stroke-linejoin="round"/></svg></div>
<div class="t" style="top:188.85px;font-size:7.1px;color:#23262f;-webkit-text-stroke:0.12px #23262f;right:14.80px;"><span style="margin:0 -0.08em">1</span>,25,875</div>
<div style="position:absolute;left:576.5px;top:207.80px;width:4.4px;height:4.4px;border-radius:50%;border:0.95px solid #5c67f7"></div>
<div class="t" style="top:206.95px;font-size:6.1px;color:#2e323c;left:584.20px;">Clothing</div>
<div class="t" style="top:207.70px;font-size:5.6px;color:#2e323c;left:651.50px;">3<span style="margin:0 -0.08em">1</span>,245</div>
<div class="t" style="top:207.75px;font-size:5.1px;color:#959bb0;left:700.70px;">25% Gross</div>
<div style="position:absolute;left:759.7px;top:206.0px;width:25.299999999999955px;height:7.900000000000006px;background:#21ce9e;border-radius:1.2px;"></div>
<div class="t" style="top:207.95px;font-size:4.5px;color:#fff;font-weight:700;left:772.35px;transform:translateX(-50%);">0.45%<svg style="position:relative;display:inline-block;vertical-align:0px;margin-left:0.8px" width="3.4" height="3.4" viewBox="0 0 10 10" preserveAspectRatio="none"><path d="M1,8 L4,5 L6,7 L9.2,3 M6,2.8 H9.2 V6" fill="none" stroke="#fff" stroke-width="1.76" stroke-linecap="round" stroke-linejoin="round"/></svg></div>
<div style="position:absolute;left:571px;top:219.75px;width:221px;height:0.5px;background:#f5f6f9;"></div>
<div style="position:absolute;left:576.5px;top:227.85px;width:4.4px;height:4.4px;border-radius:50%;border:0.95px solid #e354d4"></div>
<div class="t" style="top:227.00px;font-size:6.1px;color:#2e323c;left:584.20px;">Electronics</div>
<div class="t" style="top:227.75px;font-size:5.6px;color:#2e323c;left:651.50px;">29,553</div>
<div class="t" style="top:227.80px;font-size:5.1px;color:#959bb0;left:700.70px;"><span style="margin:0 -0.08em">1</span>6% Gross</div>
<div style="position:absolute;left:759.7px;top:226.05px;width:25.299999999999955px;height:7.900000000000006px;background:#ffc658;border-radius:1.2px;"></div>
<div class="t" style="top:228.00px;font-size:4.5px;color:#fff;font-weight:700;left:772.35px;transform:translateX(-50%);">0.27%<svg style="position:relative;display:inline-block;vertical-align:0px;margin-left:0.8px" width="3.4" height="3.4" viewBox="0 0 10 10" preserveAspectRatio="none"><path d="M1,8 L4,5 L6,7 L9.2,3 M6,2.8 H9.2 V6" fill="none" stroke="#fff" stroke-width="1.76" stroke-linecap="round" stroke-linejoin="round"/></svg></div>
<div style="position:absolute;left:571px;top:239.79999999999998px;width:221px;height:0.5px;background:#f5f6f9;"></div>
<div style="position:absolute;left:576.5px;top:247.90px;width:4.4px;height:4.4px;border-radius:50%;border:0.95px solid #ff5d9f"></div>
<div class="t" style="top:247.05px;font-size:6.1px;color:#2e323c;left:584.20px;">Grocery</div>
<div class="t" style="top:247.80px;font-size:5.6px;color:#2e323c;left:651.50px;">24,577</div>
<div class="t" style="top:247.85px;font-size:5.1px;color:#959bb0;left:700.70px;">22% Gross</div>
<div style="position:absolute;left:759.7px;top:246.1px;width:25.299999999999955px;height:7.900000000000006px;background:#9e5cf7;border-radius:1.2px;"></div>
<div class="t" style="top:248.05px;font-size:4.5px;color:#fff;font-weight:700;left:772.35px;transform:translateX(-50%);">0.63%<svg style="position:relative;display:inline-block;vertical-align:0px;margin-left:0.8px" width="3.4" height="3.4" viewBox="0 0 10 10" preserveAspectRatio="none"><path d="M1,8 L4,5 L6,7 L9.2,3 M6,2.8 H9.2 V6" fill="none" stroke="#fff" stroke-width="1.76" stroke-linecap="round" stroke-linejoin="round"/></svg></div>
<div style="position:absolute;left:571px;top:259.84999999999997px;width:221px;height:0.5px;background:#f5f6f9;"></div>
<div style="position:absolute;left:576.5px;top:267.95px;width:4.4px;height:4.4px;border-radius:50%;border:0.95px solid #ff8e6f"></div>
<div class="t" style="top:267.10px;font-size:6.1px;color:#2e323c;left:584.20px;">Automobiles</div>
<div class="t" style="top:267.85px;font-size:5.6px;color:#2e323c;left:651.50px;"><span style="margin:0 -0.08em">1</span>9,278</div>
<div class="t" style="top:267.90px;font-size:5.1px;color:#959bb0;left:700.70px;"><span style="margin:0 -0.08em">1</span>8% Gross</div>
<div style="position:absolute;left:763px;top:266.15px;width:22px;height:7.899999999999977px;background:#e354d4;border-radius:1.2px;"></div>
<div class="t" style="top:268.10px;font-size:4.5px;color:#fff;font-weight:700;left:774.00px;transform:translateX(-50%);"><span style="margin:0 -0.08em">1</span>.<span style="margin:0 -0.08em">1</span>4%<svg style="position:relative;display:inline-block;vertical-align:0px;margin-left:0.8px" width="3.4" height="3.4" viewBox="0 0 10 10" preserveAspectRatio="none"><path d="M1,2 L4,5 L6,3 L9.2,7 M6,7.2 H9.2 V4" fill="none" stroke="#fff" stroke-width="1.76" stroke-linecap="round" stroke-linejoin="round"/></svg></div>
<div style="position:absolute;left:571px;top:279.9px;width:221px;height:0.5px;background:#f5f6f9;"></div>
<div style="position:absolute;left:576.5px;top:288.00px;width:4.4px;height:4.4px;border-radius:50%;border:0.95px solid #ffc658"></div>
<div class="t" style="top:287.15px;font-size:6.1px;color:#2e323c;left:584.20px;">others</div>
<div class="t" style="top:287.90px;font-size:5.6px;color:#2e323c;left:651.50px;"><span style="margin:0 -0.08em">1</span>5,934</div>
<div class="t" style="top:287.95px;font-size:5.1px;color:#959bb0;left:700.70px;"><span style="margin:0 -0.08em">1</span>5% Gross</div>
<div style="position:absolute;left:759.7px;top:286.2px;width:25.299999999999955px;height:7.899999999999977px;background:#5c67f7;border-radius:1.2px;"></div>
<div class="t" style="top:288.15px;font-size:4.5px;color:#fff;font-weight:700;left:772.35px;transform:translateX(-50%);">3.87%<svg style="position:relative;display:inline-block;vertical-align:0px;margin-left:0.8px" width="3.4" height="3.4" viewBox="0 0 10 10" preserveAspectRatio="none"><path d="M1,8 L4,5 L6,7 L9.2,3 M6,2.8 H9.2 V6" fill="none" stroke="#fff" stroke-width="1.76" stroke-linecap="round" stroke-linejoin="round"/></svg></div>
<div class="t" style="top:319.18px;font-size:7.05px;color:#343842;-webkit-text-stroke:0.1px #343842;left:115.40px;">Latest Transactions</div>
<div style="position:absolute;left:231.7px;top:317.4px;width:33.30000000000001px;height:11.600000000000023px;background:#f5f6f9;border-radius:2px;"></div>
<div class="t" style="top:320.85px;font-size:5.3px;color:#5e6680;left:235.00px;">View All<svg style="position:relative;display:inline-block;vertical-align:0px;margin-left:2.4px" width="4.2" height="4.2" viewBox="0 0 10 10" preserveAspectRatio="none"><path d="M1,5 H9 M6.6,2.9 L9,5 L6.6,7.1" fill="none" stroke="#5e6680" stroke-width="1.07" stroke-linecap="round" stroke-linejoin="round"/></svg></div>
<div class="t" style="top:338.80px;font-size:6.4px;color:#30343e;-webkit-text-stroke:0.12px #30343e;left:115.40px;">Product</div>
<div class="t" style="top:338.80px;font-size:6.4px;color:#30343e;-webkit-text-stroke:0.12px #30343e;left:199.30px;">Price</div>
<div class="t" style="top:338.80px;font-size:6.4px;color:#30343e;-webkit-text-stroke:0.12px #30343e;left:235.30px;">Status</div>
<div style="position:absolute;left:109px;top:351.8px;width:163px;height:0.5px;background:#f1f2f7;"></div>
<svg style="left:115.4px;top:359.30px" width="11.8" height="11.8" viewBox="0 0 12 12"><defs><clipPath id="cp0"><rect width="12" height="12" rx="2"/></clipPath></defs><g clip-path="url(#cp0)"><rect width="12" height="12" fill="#7470ec"/><rect width="12" height="12" fill="#8e86f4" opacity="0.5"/><path d="M3.2 7.2 C3.5 5 6 4.8 8.2 5.6 C9.2 6.2 8.8 8.8 6.5 9.6 C4.8 10.1 3 9 3.2 7.2z" fill="#f07a22"/><path d="M5 2.2 C6.2 1.6 7.4 2.4 7 3.6 C6 3.4 5.3 3 5 2.2z" fill="#43b35b"/><path d="M6 3.6 L6.6 5" stroke="#8a4a20" stroke-width="0.5"/></g></svg>
<div class="t" style="top:362.25px;font-size:5.9px;color:#2e323c;-webkit-text-stroke:0.12px #2e323c;left:130.60px;">SwiftBuds</div>
<div class="t" style="top:362.80px;font-size:5.8px;color:#2e323c;-webkit-text-stroke:0.12px #2e323c;left:199.30px;">$39.99</div>
<div style="position:absolute;left:235.3px;top:361.09999999999997px;width:25.399999999999977px;height:7.7000000000000455px;background:#5c67f7;border-radius:1.6px;"></div>
<div class="t" style="top:363.77px;font-size:4.75px;color:#fff;font-weight:700;left:248.00px;transform:translateX(-50%);">Success</div>
<div style="position:absolute;left:109px;top:376.7px;width:163px;height:0.5px;background:#f3f4f8;"></div>
<svg style="left:115.4px;top:383.70px" width="11.8" height="11.8" viewBox="0 0 12 12"><defs><clipPath id="cp1"><rect width="12" height="12" rx="2"/></clipPath></defs><g clip-path="url(#cp1)"><rect width="12" height="12" fill="#e9c3e3"/><circle cx="4.2" cy="4.4" r="1.8" fill="#f06292"/><circle cx="3" cy="7" r="1" fill="#8e7cf0"/><circle cx="7.6" cy="7.6" r="2.8" fill="#1f5c2c"/><path d="M7 6.6 h1.4 v2.2 h-1.4z" fill="#fff"/></g></svg>
<div class="t" style="top:386.65px;font-size:5.9px;color:#2e323c;-webkit-text-stroke:0.12px #2e323c;left:130.60px;">CozyCloud Pillow</div>
<div class="t" style="top:387.20px;font-size:5.8px;color:#2e323c;-webkit-text-stroke:0.12px #2e323c;left:199.30px;">$<span style="margin:0 -0.08em">1</span>9.95</div>
<div style="position:absolute;left:235.3px;top:385.49999999999994px;width:25.399999999999977px;height:7.7000000000000455px;background:#e354d4;border-radius:1.6px;"></div>
<div class="t" style="top:388.17px;font-size:4.75px;color:#fff;font-weight:700;left:248.00px;transform:translateX(-50%);">Pending</div>
<div style="position:absolute;left:109px;top:401.1px;width:163px;height:0.5px;background:#f3f4f8;"></div>
<svg style="left:115.4px;top:408.10px" width="11.8" height="11.8" viewBox="0 0 12 12"><defs><clipPath id="cp2"><rect width="12" height="12" rx="2"/></clipPath></defs><g clip-path="url(#cp2)"><rect width="12" height="12" fill="#22215a"/><circle cx="5" cy="6" r="3.2" fill="#8ba0f0"/><circle cx="4" cy="8.4" r="2.2" fill="#e77fc8"/><circle cx="9" cy="8.8" r="0.8" fill="#f0c040"/><circle cx="9.6" cy="3" r="0.4" fill="#fff"/></g></svg>
<div class="t" style="top:411.05px;font-size:5.9px;color:#2e323c;-webkit-text-stroke:0.12px #2e323c;left:130.60px;">AquaGrip Bottle</div>
<div class="t" style="top:411.60px;font-size:5.8px;color:#2e323c;-webkit-text-stroke:0.12px #2e323c;left:199.30px;">$9.99</div>
<div style="position:absolute;left:235.3px;top:409.9px;width:20.0px;height:7.7000000000000455px;background:#ff5d9f;border-radius:1.6px;"></div>
<div class="t" style="top:412.57px;font-size:4.75px;color:#fff;font-weight:700;left:245.30px;transform:translateX(-50%);">Failed</div>
<div style="position:absolute;left:109px;top:425.5px;width:163px;height:0.5px;background:#f3f4f8;"></div>
<svg style="left:115.4px;top:432.50px" width="11.8" height="11.8" viewBox="0 0 12 12"><defs><clipPath id="cp3"><rect width="12" height="12" rx="2"/></clipPath></defs><g clip-path="url(#cp3)"><rect width="12" height="12" fill="#ee5a6e"/><rect x="2" y="1.4" width="8" height="9.4" rx="1" fill="#3a1822"/><ellipse cx="6" cy="5.8" rx="2" ry="2.6" fill="#f0a8a0"/><path d="M3 11 C4 8.8 8 8.8 9 11z" fill="#a070d8"/><rect y="10.6" width="12" height="1.4" fill="#f7c0b0"/></g></svg>
<div class="t" style="top:435.45px;font-size:5.9px;color:#2e323c;-webkit-text-stroke:0.12px #2e323c;left:130.60px;">GlowLite Lamp</div>
<div class="t" style="top:436.00px;font-size:5.8px;color:#2e323c;-webkit-text-stroke:0.12px #2e323c;left:199.30px;">$24.99</div>
<div style="position:absolute;left:235.3px;top:434.29999999999995px;width:25.399999999999977px;height:7.7000000000000455px;background:#ff8e6f;border-radius:1.6px;"></div>
<div class="t" style="top:436.97px;font-size:4.75px;color:#fff;font-weight:700;left:248.00px;transform:translateX(-50%);">Success</div>
<div style="position:absolute;left:109px;top:449.9px;width:163px;height:0.5px;background:#f3f4f8;"></div>
<svg style="left:115.4px;top:456.90px" width="11.8" height="11.8" viewBox="0 0 12 12"><defs><clipPath id="cp4"><rect width="12" height="12" rx="2"/></clipPath></defs><g clip-path="url(#cp4)"><rect width="12" height="12" fill="#20485a"/><circle cx="6" cy="6.2" r="2.4" fill="#ef6b2c"/><circle cx="3" cy="8.8" r="1" fill="#f0c040"/><circle cx="9" cy="8.6" r="1" fill="#50b070"/><circle cx="8.4" cy="3.2" r="0.6" fill="#f0c040"/><path d="M1 11 h10" stroke="#d06ad0" stroke-width="1"/></g></svg>
<div class="t" style="top:459.85px;font-size:5.9px;color:#2e323c;-webkit-text-stroke:0.12px #2e323c;left:130.60px;">Bitvitamin</div>
<div class="t" style="top:460.40px;font-size:5.8px;color:#2e323c;-webkit-text-stroke:0.12px #2e323c;left:199.30px;">$26.45</div>
<div style="position:absolute;left:235.3px;top:458.69999999999993px;width:25.399999999999977px;height:7.7000000000000455px;background:#9e5cf7;border-radius:1.6px;"></div>
<div class="t" style="top:461.37px;font-size:4.75px;color:#fff;font-weight:700;left:248.00px;transform:translateX(-50%);">Success</div>
<div style="position:absolute;left:109px;top:474.3px;width:163px;height:0.5px;background:#f3f4f8;"></div>
<svg style="left:115.4px;top:481.30px" width="11.8" height="11.8" viewBox="0 0 12 12"><defs><clipPath id="cp5"><rect width="12" height="12" rx="2"/></clipPath></defs><g clip-path="url(#cp5)"><rect width="12" height="12" fill="#f7a6cb"/><ellipse cx="6" cy="6.4" rx="2.8" ry="1.6" fill="#c43a5a"/><ellipse cx="6" cy="5.6" rx="1.8" ry="1.4" fill="#3a4aa8"/></g></svg>
<div class="t" style="top:484.25px;font-size:5.9px;color:#2e323c;-webkit-text-stroke:0.12px #2e323c;left:130.60px;">FitTrack</div>
<div class="t" style="top:484.80px;font-size:5.8px;color:#2e323c;-webkit-text-stroke:0.12px #2e323c;left:199.30px;">$49.95</div>
<div style="position:absolute;left:235.3px;top:483.09999999999997px;width:25.399999999999977px;height:7.7000000000000455px;background:#ffc658;border-radius:1.6px;"></div>
<div class="t" style="top:485.77px;font-size:4.75px;color:#fff;font-weight:700;left:248.00px;transform:translateX(-50%);">Success</div>
<div class="t" style="top:319.18px;font-size:7.05px;color:#343842;-webkit-text-stroke:0.1px #343842;left:289.00px;">Recent Activity</div>
<div style="position:absolute;left:411.7px;top:317.4px;width:26.600000000000023px;height:11.600000000000023px;background:#f5f6f9;border-radius:2px;"></div>
<div class="t" style="top:320.90px;font-size:5.4px;color:#5e6680;left:425.00px;transform:translateX(-50%);">View All</div>
<div style="position:absolute;left:315.8px;top:343px;width:0.5px;height:135px;background:#eef0f5;"></div>
<div class="t" style="top:342.10px;font-size:5.4px;color:#4a4f5c;left:288.70px;"><span style="margin:0 -0.08em">1</span>2 Hrs</div>
<div style="position:absolute;left:313.45px;top:340.90px;width:5.2px;height:5.2px;border-radius:50%;background:#5c67f7;opacity:0.15"></div>
<div style="position:absolute;left:314.65px;top:342.10px;width:2.8px;height:2.8px;border-radius:50%;background:#5c67f7"></div>
<div class="t" style="top:340.85px;font-size:6.3px;color:#2a2e38;-webkit-text-stroke:0.12px #2a2e38;left:327.30px;">John Doe</div>
<div class="t" style="top:349.15px;font-size:6.1px;color:#8088a8;left:327.30px;">Updated the product description for</div>
<div class="t" style="top:357.35px;font-size:6.1px;color:#8088a8;left:327.30px;"><span style="color:#5c67f7">Widget X.</span></div>
<div class="t" style="top:374.55px;font-size:5.4px;color:#4a4f5c;left:288.70px;">4:32pm</div>
<div style="position:absolute;left:313.45px;top:373.35px;width:5.2px;height:5.2px;border-radius:50%;background:#e354d4;opacity:0.15"></div>
<div style="position:absolute;left:314.65px;top:374.55px;width:2.8px;height:2.8px;border-radius:50%;background:#e354d4"></div>
<div class="t" style="top:373.30px;font-size:6.3px;color:#2a2e38;-webkit-text-stroke:0.12px #2a2e38;left:327.30px;">Jane Smith</div>
<div class="t" style="top:381.60px;font-size:6.1px;color:#8088a8;left:327.30px;">added a <span style="color:#2e323c;font-weight:700">new user</span> with username</div>
<div class="t" style="top:389.80px;font-size:6.1px;color:#8088a8;left:327.30px;"><span style="color:#e354d4">janesmith89.</span></div>
<div class="t" style="top:407.00px;font-size:5.4px;color:#4a4f5c;left:288.70px;"><span style="margin:0 -0.08em">1</span><span style="margin:0 -0.08em">1</span>:45am</div>
<div style="position:absolute;left:313.45px;top:405.80px;width:5.2px;height:5.2px;border-radius:50%;background:#ff5d9f;opacity:0.15"></div>
<div style="position:absolute;left:314.65px;top:407.00px;width:2.8px;height:2.8px;border-radius:50%;background:#ff5d9f"></div>
<div class="t" style="top:405.75px;font-size:6.3px;color:#2a2e38;-webkit-text-stroke:0.12px #2a2e38;left:327.30px;">Michael Brown</div>
<div class="t" style="top:414.05px;font-size:6.1px;color:#8088a8;left:327.30px;">Changed the status of order <span style="color:#2e323c;text-decoration:underline;text-decoration-thickness:0.4px;text-underline-offset:0.6px">#<span style="margin:0 -0.08em">1</span>2345</span> to</div>
<div class="t" style="top:422.25px;font-size:6.1px;color:#8088a8;left:327.30px;"><span style="color:#ff5d9f">Shipped.</span></div>
<div class="t" style="top:439.45px;font-size:5.4px;color:#4a4f5c;left:288.70px;">9:27am</div>
<div style="position:absolute;left:313.45px;top:438.25px;width:5.2px;height:5.2px;border-radius:50%;background:#ff8e6f;opacity:0.15"></div>
<div style="position:absolute;left:314.65px;top:439.45px;width:2.8px;height:2.8px;border-radius:50%;background:#ff8e6f"></div>
<div class="t" style="top:438.20px;font-size:6.3px;color:#2a2e38;-webkit-text-stroke:0.12px #2a2e38;left:327.30px;">David Wilson</div>
<div class="t" style="top:446.50px;font-size:6.1px;color:#8088a8;left:327.30px;">added <span style="color:#ff8e6f">John Smith</span> to academy group</div>
<div class="t" style="top:454.70px;font-size:6.1px;color:#8088a8;left:327.30px;">this day.</div>
<div class="t" style="top:471.90px;font-size:5.4px;color:#4a4f5c;left:288.70px;">8:56pm</div>
<div style="position:absolute;left:313.45px;top:470.70px;width:5.2px;height:5.2px;border-radius:50%;background:#9e5cf7;opacity:0.15"></div>
<div style="position:absolute;left:314.65px;top:471.90px;width:2.8px;height:2.8px;border-radius:50%;background:#9e5cf7"></div>
<div class="t" style="top:470.65px;font-size:6.3px;color:#2a2e38;-webkit-text-stroke:0.12px #2a2e38;left:327.30px;">Robert Jackson</div>
<div class="t" style="top:478.95px;font-size:6.1px;color:#8088a8;left:327.30px;">added a comment to the task <span style="color:#9e5cf7">Update</span></div>
<div class="t" style="top:487.15px;font-size:6.1px;color:#8088a8;left:327.30px;"><span style="color:#9e5cf7">website layout.</span></div>
<div class="t" style="top:319.18px;font-size:7.05px;color:#343842;-webkit-text-stroke:0.1px #343842;left:462.00px;">Sales Statistics</div>
<div style="position:absolute;left:581px;top:317.3px;width:30.700000000000045px;height:11.699999999999989px;background:#f5f6f9;border-radius:2px;"></div>
<div class="t" style="top:320.77px;font-size:5.15px;color:#6b7390;left:584.50px;">Sort By</div>
<svg style="left:604.10px;top:322.05px" width="3.6" height="2.4" viewBox="0 0 3.6 2.4"><path d="M0.4 0.5 L1.8 1.9 L3.2 0.5" fill="none" stroke="#8a90a8" stroke-width="0.45"/></svg>
<div style="position:absolute;left:462.2px;top:339.3px;width:49.900000000000034px;height:30.5px;background:#f7f8fa;border-radius:2px;"></div>
<div class="t" style="top:348.22px;font-size:5.95px;color:#3a3f4c;left:472.50px;">Total Sales</div>
<div class="t" style="top:355.55px;font-size:6.3px;color:#2e323c;-webkit-text-stroke:0.12px #2e323c;left:472.50px;">$3.478B</div>
<div style="position:absolute;left:516.4px;top:339.3px;width:45.39999999999998px;height:30.5px;background:#f7f8fa;border-radius:2px;"></div>
<div class="t" style="top:348.22px;font-size:5.95px;color:#3a3f4c;left:527.20px;">This Year</div>
<div class="t" style="top:355.55px;font-size:6.3px;color:#21ce9e;-webkit-text-stroke:0.12px #21ce9e;left:527.20px;">4,25,349</div>
<div style="position:absolute;left:566.3px;top:339.3px;width:45.40000000000009px;height:30.5px;background:#f7f8fa;border-radius:2px;"></div>
<div class="t" style="top:348.22px;font-size:5.95px;color:#3a3f4c;left:577.10px;">Last Year</div>
<div class="t" style="top:355.55px;font-size:6.3px;color:#fb4242;-webkit-text-stroke:0.12px #fb4242;left:577.10px;">3,4<span style="margin:0 -0.08em">1</span>,622</div>
<div class="t" style="top:386.65px;font-size:4.7px;color:#5f6680;-webkit-text-stroke:0.12px #5f6680;right:323.20px;">320</div>
<div class="t" style="top:405.15px;font-size:4.7px;color:#5f6680;-webkit-text-stroke:0.12px #5f6680;right:323.20px;">240</div>
<div class="t" style="top:423.65px;font-size:4.7px;color:#5f6680;-webkit-text-stroke:0.12px #5f6680;right:323.20px;"><span style="margin:0 -0.08em">1</span>60</div>
<div class="t" style="top:442.15px;font-size:4.7px;color:#5f6680;-webkit-text-stroke:0.12px #5f6680;right:323.20px;">80</div>
<div class="t" style="top:460.65px;font-size:4.7px;color:#5f6680;-webkit-text-stroke:0.12px #5f6680;right:323.20px;">0</div>
<svg style="left:0;top:0" width="800" height="600" viewBox="0 0 800 600"><line x1="481.8" x2="604.5" y1="389.10" y2="389.10" stroke="#eceef3" stroke-width="0.5" stroke-dasharray="1.2 1.2"/><line x1="481.8" x2="604.5" y1="407.60" y2="407.60" stroke="#eceef3" stroke-width="0.5" stroke-dasharray="1.2 1.2"/><line x1="481.8" x2="604.5" y1="426.10" y2="426.10" stroke="#eceef3" stroke-width="0.5" stroke-dasharray="1.2 1.2"/><line x1="481.8" x2="604.5" y1="444.60" y2="444.60" stroke="#eceef3" stroke-width="0.5" stroke-dasharray="1.2 1.2"/><line x1="481.8" x2="604.5" y1="463.20" y2="463.20" stroke="#eceef3" stroke-width="0.5"/><rect x="486.55" y="415.89" width="4.9" height="17.42" rx="1" fill="#ff8e6f"/><rect x="486.55" y="432.31" width="4.9" height="13.26" rx="0.6" fill="#e354d4"/><rect x="486.55" y="444.56" width="4.9" height="18.04" rx="1" fill="#5c67f7"/><rect x="504.35" y="414.27" width="4.9" height="23.20" rx="1" fill="#ff8e6f"/><rect x="504.35" y="436.47" width="4.9" height="6.78" rx="0.6" fill="#e354d4"/><rect x="504.35" y="442.25" width="4.9" height="20.35" rx="1" fill="#5c67f7"/><rect x="522.15" y="427.22" width="4.9" height="17.42" rx="1" fill="#ff8e6f"/><rect x="522.15" y="443.64" width="4.9" height="6.55" rx="0.6" fill="#e354d4"/><rect x="522.15" y="449.19" width="4.9" height="13.41" rx="1" fill="#5c67f7"/><rect x="539.95" y="392.99" width="4.9" height="13.49" rx="1" fill="#ff8e6f"/><rect x="539.95" y="405.48" width="4.9" height="38.69" rx="0.6" fill="#e354d4"/><rect x="539.95" y="443.18" width="4.9" height="19.43" rx="1" fill="#5c67f7"/><rect x="557.75" y="401.32" width="4.9" height="17.88" rx="1" fill="#ff8e6f"/><rect x="557.75" y="418.20" width="4.9" height="18.11" rx="0.6" fill="#e354d4"/><rect x="557.75" y="435.31" width="4.9" height="27.29" rx="1" fill="#5c67f7"/><rect x="575.55" y="398.78" width="4.9" height="12.79" rx="1" fill="#ff8e6f"/><rect x="575.55" y="410.57" width="4.9" height="15.57" rx="0.6" fill="#e354d4"/><rect x="575.55" y="425.14" width="4.9" height="37.46" rx="1" fill="#5c67f7"/><rect x="593.35" y="404.33" width="4.9" height="17.19" rx="1" fill="#ff8e6f"/><rect x="593.35" y="420.51" width="4.9" height="16.96" rx="0.6" fill="#e354d4"/><rect x="593.35" y="436.47" width="4.9" height="26.13" rx="1" fill="#5c67f7"/></svg>
<div class="t" style="top:469.20px;font-size:5.4px;color:#6e7590;left:489.00px;transform:translateX(-50%);">Mon</div>
<div class="t" style="top:469.20px;font-size:5.4px;color:#6e7590;left:506.80px;transform:translateX(-50%);">Tue</div>
<div class="t" style="top:469.20px;font-size:5.4px;color:#6e7590;left:524.60px;transform:translateX(-50%);">Wed</div>
<div class="t" style="top:469.20px;font-size:5.4px;color:#6e7590;left:542.40px;transform:translateX(-50%);">Thu</div>
<div class="t" style="top:469.20px;font-size:5.4px;color:#6e7590;left:560.20px;transform:translateX(-50%);">Fri</div>
<div class="t" style="top:469.20px;font-size:5.4px;color:#6e7590;left:578.00px;transform:translateX(-50%);">Sat</div>
<div class="t" style="top:469.20px;font-size:5.4px;color:#6e7590;left:595.80px;transform:translateX(-50%);">Sun</div>
<div style="position:absolute;left:493.40px;top:481.20px;width:2.8px;height:2.8px;border-radius:50%;background:#5c67f7"></div>
<div class="t" style="top:480.40px;font-size:5.6px;color:#3a3f4c;-webkit-text-stroke:0.12px #3a3f4c;left:500.00px;">Total</div>
<div style="position:absolute;left:516.90px;top:481.20px;width:2.8px;height:2.8px;border-radius:0.6px;background:#e354d4"></div>
<div class="t" style="top:480.40px;font-size:5.6px;color:#3a3f4c;-webkit-text-stroke:0.12px #3a3f4c;left:523.50px;">This Year</div>
<div style="position:absolute;left:550.60px;top:481.20px;width:2.8px;height:2.8px;border-radius:0.6px;background:#ff8e6f"></div>
<div class="t" style="top:480.40px;font-size:5.6px;color:#3a3f4c;-webkit-text-stroke:0.12px #3a3f4c;left:557.20px;">Last Year</div>
<div class="t" style="top:319.18px;font-size:7.05px;color:#343842;-webkit-text-stroke:0.1px #343842;left:635.50px;">Overall Statistics</div>
<div style="position:absolute;left:758.2px;top:317.4px;width:27.199999999999932px;height:11.600000000000023px;background:#f5f6f9;border-radius:2px;"></div>
<div class="t" style="top:320.90px;font-size:5.4px;color:#5e6680;left:771.80px;transform:translateX(-50%);">View All</div>
<div style="position:absolute;left:635.4px;top:336.4px;width:149.60000000000002px;height:158.60000000000002px;border:0.5px solid #f0f1f7;border-radius:2px;"></div>
<div class="t" style="top:344.25px;font-size:5.9px;color:#8088a8;left:642.50px;">Total Expenses</div>
<div class="t" style="top:353.75px;font-size:6.9px;color:#23262f;-webkit-text-stroke:0.12px #23262f;left:642.50px;">$<span style="margin:0 -0.08em">1</span>34,032</div>
<div class="t" style="top:355.00px;font-size:4.8px;color:#21ce9e;left:674.30px;">0.45%<svg style="position:relative;display:inline-block;vertical-align:0px;margin-left:1.4px" width="3.6" height="3.6" viewBox="0 0 10 10" preserveAspectRatio="none"><path d="M1,8 L4,5 L6,7 L9.2,3 M6,2.8 H9.2 V6" fill="none" stroke="#21ce9e" stroke-width="1.39" stroke-linecap="round" stroke-linejoin="round"/></svg></div>
<svg style="left:0;top:0" width="800" height="600" viewBox="0 0 800 600"><path d="M736.30,353.40 C737.13,351.80 739.26,345.02 740.90,344.50 C742.54,343.98 743.78,350.81 745.40,350.50 C747.02,350.19 748.24,343.70 749.90,342.80 C751.56,341.90 752.91,345.21 754.60,345.50 C756.29,345.79 757.64,343.72 759.30,344.40 C760.96,345.08 762.16,348.90 763.80,349.30 C765.44,349.70 766.74,348.00 768.40,346.60 C770.06,345.20 771.34,340.85 773.00,341.50 C774.66,342.15 776.77,348.63 777.60,350.20" fill="none" stroke="#8a6ef0" stroke-width="0.85" stroke-linejoin="round"/></svg>
<div class="t" style="top:355.75px;font-size:5.5px;color:#3a3f4c;left:746.00px;">See more</div>
<svg style="left:0;top:0" width="800" height="600" viewBox="0 0 800 600"><path d="M774.20,358.00 H777.40 M776.30,356.90 L777.40,358.00 L776.30,359.10" fill="none" stroke="#3a3f4c" stroke-width="0.6" stroke-linecap="round" stroke-linejoin="round"/></svg>
<div style="position:absolute;left:635.4px;top:367.87px;width:149.60000000000002px;height:0.5px;background:#f0f1f7;"></div>
<div class="t" style="top:375.97px;font-size:5.9px;color:#8088a8;left:642.50px;">General Leads</div>
<div class="t" style="top:385.47px;font-size:6.9px;color:#23262f;-webkit-text-stroke:0.12px #23262f;left:642.50px;">74,354</div>
<div class="t" style="top:386.72px;font-size:4.8px;color:#fb4242;left:667.70px;">3.84%<svg style="position:relative;display:inline-block;vertical-align:0px;margin-left:1.4px" width="3.6" height="3.6" viewBox="0 0 10 10" preserveAspectRatio="none"><path d="M1,2 L4,5 L6,3 L9.2,7 M6,7.2 H9.2 V4" fill="none" stroke="#fb4242" stroke-width="1.39" stroke-linecap="round" stroke-linejoin="round"/></svg></div>
<svg style="left:0;top:0" width="800" height="600" viewBox="0 0 800 600"><path d="M736.30,385.42 C737.13,384.05 739.26,378.85 740.90,377.82 C742.54,376.79 743.78,380.08 745.40,379.72 C747.02,379.36 748.24,375.82 749.90,375.82 C751.56,375.82 752.91,379.72 754.60,379.72 C756.29,379.72 757.64,375.15 759.30,375.82 C760.96,376.49 762.16,383.38 763.80,383.42 C765.44,383.46 766.74,377.87 768.40,376.02 C770.06,374.17 771.34,372.47 773.00,373.12 C774.66,373.77 776.77,378.45 777.60,379.62" fill="none" stroke="#e354d4" stroke-width="0.85" stroke-linejoin="round"/></svg>
<div class="t" style="top:387.47px;font-size:5.5px;color:#3a3f4c;left:746.00px;">See more</div>
<svg style="left:0;top:0" width="800" height="600" viewBox="0 0 800 600"><path d="M774.20,389.72 H777.40 M776.30,388.62 L777.40,389.72 L776.30,390.82" fill="none" stroke="#3a3f4c" stroke-width="0.6" stroke-linecap="round" stroke-linejoin="round"/></svg>
<div style="position:absolute;left:635.4px;top:399.59px;width:149.60000000000002px;height:0.5px;background:#f0f1f7;"></div>
<div class="t" style="top:407.69px;font-size:5.9px;color:#8088a8;left:642.50px;">Churn Rate</div>
<div class="t" style="top:417.19px;font-size:6.9px;color:#23262f;-webkit-text-stroke:0.12px #23262f;left:642.50px;">6.02%</div>
<div class="t" style="top:418.44px;font-size:4.8px;color:#21ce9e;left:665.00px;">0.72%<svg style="position:relative;display:inline-block;vertical-align:0px;margin-left:1.4px" width="3.6" height="3.6" viewBox="0 0 10 10" preserveAspectRatio="none"><path d="M1,8 L4,5 L6,7 L9.2,3 M6,2.8 H9.2 V6" fill="none" stroke="#21ce9e" stroke-width="1.39" stroke-linecap="round" stroke-linejoin="round"/></svg></div>
<svg style="left:0;top:0" width="800" height="600" viewBox="0 0 800 600"><path d="M736.30,417.74 C737.13,417.11 739.26,416.15 740.90,414.24 C742.54,412.33 743.78,407.28 745.40,407.14 C747.02,407.00 748.24,412.50 749.90,413.44 C751.56,414.38 752.91,413.10 754.60,412.34 C756.29,411.58 757.64,408.56 759.30,409.24 C760.96,409.92 762.16,416.81 763.80,416.14 C765.44,415.47 766.74,406.96 768.40,405.54 C770.06,404.12 771.34,407.02 773.00,408.24 C774.66,409.46 776.77,411.60 777.60,412.34" fill="none" stroke="#ff5d9f" stroke-width="0.85" stroke-linejoin="round"/></svg>
<div class="t" style="top:419.19px;font-size:5.5px;color:#3a3f4c;left:746.00px;">See more</div>
<svg style="left:0;top:0" width="800" height="600" viewBox="0 0 800 600"><path d="M774.20,421.44 H777.40 M776.30,420.34 L777.40,421.44 L776.30,422.54" fill="none" stroke="#3a3f4c" stroke-width="0.6" stroke-linecap="round" stroke-linejoin="round"/></svg>
<div style="position:absolute;left:635.4px;top:431.30999999999995px;width:149.60000000000002px;height:0.5px;background:#f0f1f7;"></div>
<div class="t" style="top:439.41px;font-size:5.9px;color:#8088a8;left:642.50px;">New Users</div>
<div class="t" style="top:448.91px;font-size:6.9px;color:#23262f;-webkit-text-stroke:0.12px #23262f;left:642.50px;">7,893</div>
<div class="t" style="top:450.16px;font-size:4.8px;color:#21ce9e;left:663.70px;"><span style="margin:0 -0.08em">1</span><span style="margin:0 -0.08em">1</span>.05%<svg style="position:relative;display:inline-block;vertical-align:0px;margin-left:1.4px" width="3.6" height="3.6" viewBox="0 0 10 10" preserveAspectRatio="none"><path d="M1,8 L4,5 L6,7 L9.2,3 M6,2.8 H9.2 V6" fill="none" stroke="#21ce9e" stroke-width="1.39" stroke-linecap="round" stroke-linejoin="round"/></svg></div>
<svg style="left:0;top:0" width="800" height="600" viewBox="0 0 800 600"><path d="M736.30,449.36 C737.13,448.78 739.26,447.31 740.90,446.16 C742.54,445.01 743.78,444.02 745.40,442.96 C747.02,441.90 748.24,439.68 749.90,440.26 C751.56,440.84 752.91,445.67 754.60,446.16 C756.29,446.65 757.64,442.82 759.30,442.96 C760.96,443.10 762.16,446.78 763.80,446.96 C765.44,447.14 766.74,445.67 768.40,443.96 C770.06,442.25 771.34,437.35 773.00,437.46 C774.66,437.57 776.77,443.28 777.60,444.56" fill="none" stroke="#ff8e6f" stroke-width="0.85" stroke-linejoin="round"/></svg>
<div class="t" style="top:450.91px;font-size:5.5px;color:#3a3f4c;left:746.00px;">See more</div>
<svg style="left:0;top:0" width="800" height="600" viewBox="0 0 800 600"><path d="M774.20,453.16 H777.40 M776.30,452.06 L777.40,453.16 L776.30,454.26" fill="none" stroke="#3a3f4c" stroke-width="0.6" stroke-linecap="round" stroke-linejoin="round"/></svg>
<div style="position:absolute;left:635.4px;top:463.03px;width:149.60000000000002px;height:0.5px;background:#f0f1f7;"></div>
<div class="t" style="top:471.13px;font-size:5.9px;color:#8088a8;left:642.50px;">Returning Users</div>
<div class="t" style="top:480.63px;font-size:6.9px;color:#23262f;-webkit-text-stroke:0.12px #23262f;left:642.50px;">3,258</div>
<div class="t" style="top:481.88px;font-size:4.8px;color:#21ce9e;left:663.70px;"><span style="margin:0 -0.08em">1</span>.69%<svg style="position:relative;display:inline-block;vertical-align:0px;margin-left:1.4px" width="3.6" height="3.6" viewBox="0 0 10 10" preserveAspectRatio="none"><path d="M1,8 L4,5 L6,7 L9.2,3 M6,2.8 H9.2 V6" fill="none" stroke="#21ce9e" stroke-width="1.39" stroke-linecap="round" stroke-linejoin="round"/></svg></div>
<svg style="left:0;top:0" width="800" height="600" viewBox="0 0 800 600"><path d="M736.30,481.48 C737.13,480.76 739.26,478.61 740.90,477.48 C742.54,476.35 743.78,475.59 745.40,475.18 C747.02,474.77 748.24,476.28 749.90,475.18 C751.56,474.08 752.91,468.88 754.60,469.08 C756.29,469.28 757.64,475.67 759.30,476.28 C760.96,476.89 762.16,472.21 763.80,472.48 C765.44,472.75 766.74,477.29 768.40,477.78 C770.06,478.27 771.34,475.09 773.00,475.18 C774.66,475.27 776.77,477.72 777.60,478.28" fill="none" stroke="#9e5cf7" stroke-width="0.85" stroke-linejoin="round"/></svg>
<div class="t" style="top:482.63px;font-size:5.5px;color:#3a3f4c;left:746.00px;">See more</div>
<svg style="left:0;top:0" width="800" height="600" viewBox="0 0 800 600"><path d="M774.20,484.88 H777.40 M776.30,483.78 L777.40,484.88 L776.30,485.98" fill="none" stroke="#3a3f4c" stroke-width="0.6" stroke-linecap="round" stroke-linejoin="round"/></svg>
<div class="t" style="top:521.08px;font-size:7.05px;color:#343842;-webkit-text-stroke:0.1px #343842;left:115.60px;">Recent Orders</div>
<div style="position:absolute;left:584.5px;top:519px;width:27.200000000000045px;height:11.5px;background:#f5f6f9;border-radius:2px;"></div>
<div class="t" style="top:522.10px;font-size:5.4px;color:#5e6680;left:598.10px;transform:translateX(-50%);">View All</div>
<div style="position:absolute;left:118.2px;top:540.8px;width:6px;height:6px;border:0.5px solid #dfe2ea;border-radius:1px;background:#fff"></div>
<div class="t" style="top:540.95px;font-size:6.1px;color:#262a33;left:140.10px;">Customer</div>
<div class="t" style="top:540.95px;font-size:6.1px;color:#262a33;left:262.70px;">Product</div>
<div class="t" style="top:540.95px;font-size:6.1px;color:#262a33;left:374.00px;transform:translateX(-50%);">Quantity</div>
<div class="t" style="top:540.95px;font-size:6.1px;color:#262a33;left:420.70px;transform:translateX(-50%);">Amount</div>
<div class="t" style="top:540.95px;font-size:6.1px;color:#262a33;left:450.00px;">Status</div>
<div class="t" style="top:540.95px;font-size:6.1px;color:#262a33;left:506.10px;">Date Ordered</div>
<div class="t" style="top:540.95px;font-size:6.1px;color:#262a33;left:571.10px;">Actions</div>
<div style="position:absolute;left:108.8px;top:553.3px;width:509.7px;height:0.5px;background:#f1f2f7;"></div>
<div style="position:absolute;left:108.8px;top:580.3px;width:509.7px;height:0.5px;background:#f1f2f7;"></div>
<div style="position:absolute;left:118.2px;top:563.90px;width:6px;height:6px;border-radius:1px;background:#5c67f7"></div>
<svg style="left:119.2px;top:564.90px" width="4" height="4" viewBox="0 0 4 4"><path d="M0.7 2 L1.7 3 L3.3 1" fill="none" stroke="#fff" stroke-width="0.7"/></svg>
<svg style="left:140px;top:560.70px" width="11.8" height="12" viewBox="0 0 12 12"><defs><clipPath id="avE"><rect width="12" height="12" rx="1.6"/></clipPath></defs><g clip-path="url(#avE)"><rect width="12" height="12" fill="#fcc6c6"/><path d="M2.6 10 C1.8 6 2.5 2 6 1.8 C9.5 2 10.2 6 9.4 10 Z" fill="#3a2018"/><path d="M3.5 1.6 C5 0.6 7 0.6 8.5 1.6 L8 2.6 L4 2.6Z" fill="#d89a40"/><ellipse cx="6" cy="5.8" rx="2" ry="2.5" fill="#e8b088"/><path d="M4.2 4.2 C5 3 7 3 7.8 4.2 L7.6 5 C6.6 4.2 5.4 4.2 4.4 5Z" fill="#3a2018"/><path d="M3 12 C3.5 9.5 8.5 9.5 9 12Z" fill="#e8a030"/></g></svg>
<div class="t" style="top:560.85px;font-size:6.1px;color:#2a2e38;left:158.20px;">Elena smith</div>
<div class="t" style="top:568.80px;font-size:5.2px;color:#8088a8;left:158.20px;">elenasmith387@gmail.com</div>
<div class="t" style="top:564.45px;font-size:6.1px;color:#3a3f4c;left:262.70px;">All-Purpose Cleaner</div>
<div class="t" style="top:564.90px;font-size:5.6px;color:#3a3f4c;left:374.00px;transform:translateX(-50%);">3</div>
<div class="t" style="top:564.90px;font-size:5.6px;color:#3a3f4c;left:420.60px;transform:translateX(-50%);">$9.99</div>
<div style="position:absolute;left:450px;top:563.5px;width:31.5px;height:7.2999999999999545px;background:#e8eafe;border-radius:1.3px;"></div>
<div class="t" style="top:565.20px;font-size:5.0px;color:#5c67f7;left:465.75px;transform:translateX(-50%);">In Progress</div>
<div class="t" style="top:564.85px;font-size:5.7px;color:#3a3f4c;left:506.00px;">03,Sep 2024</div>
<div style="position:absolute;left:571.3px;top:561.6px;width:11.200000000000045px;height:11.599999999999909px;background:#e4f8f1;border-radius:1.5px;"></div>
<svg style="left:574.4px;top:564.70px" width="5" height="5" viewBox="0 0 10 10"><path d="M2 8 L2.4 6.2 L7 1.6 L8.4 3 L3.8 7.6 Z" fill="#21ce9e"/></svg>
<div style="position:absolute;left:586.8px;top:561.6px;width:11.200000000000045px;height:11.599999999999909px;background:#fee8e8;border-radius:1.5px;"></div>
<svg style="left:589.9px;top:564.50px" width="5" height="5.2" viewBox="0 0 10 10"><path d="M2 2.5 H8 M4 2.5 V1.2 H6 V2.5 M2.8 3.2 L3.3 9 H6.7 L7.2 3.2 Z" fill="none" stroke="#fb4242" stroke-width="1.1"/></svg>
<div style="position:absolute;left:118.2px;top:590.70px;width:6px;height:6px;border:0.5px solid #dfe2ea;border-radius:1px;background:#fff"></div>
<svg style="left:140px;top:587.50px" width="11.8" height="12" viewBox="0 0 12 12"><defs><clipPath id="avN"><rect width="12" height="12" rx="1.6"/></clipPath></defs><g clip-path="url(#avN)"><rect width="12" height="12" fill="#f7a6a6"/><ellipse cx="6" cy="5.8" rx="2.3" ry="2.6" fill="#c8845a"/><path d="M3.5 4.8 C3.2 1.6 8.8 1.6 8.5 4.8 C7.6 3.6 4.4 3.6 3.5 4.8Z" fill="#2a1a14"/><path d="M3.8 6 C4 9 8 9 8.2 6 C7.4 7.6 4.6 7.6 3.8 6Z" fill="#2a1a14"/><path d="M2 12 C2.5 9.6 9.5 9.6 10 12Z" fill="#1e2a5a"/><path d="M5.2 9.8 L6 12 L6.8 9.8Z" fill="#f2f2f2"/></g></svg>
<div class="t" style="top:587.65px;font-size:6.1px;color:#2a2e38;left:158.20px;">Nelson Gold</div>
<div class="t" style="top:595.60px;font-size:5.2px;color:#8088a8;left:158.20px;">noahrussell556@gmail.com</div>
<div class="t" style="top:591.25px;font-size:6.1px;color:#3a3f4c;left:262.70px;">Kitchen Knife Set</div>
<div class="t" style="top:591.70px;font-size:5.6px;color:#3a3f4c;left:374.00px;transform:translateX(-50%);">4</div>
<div class="t" style="top:591.70px;font-size:5.6px;color:#3a3f4c;left:420.60px;transform:translateX(-50%);">$49.99</div>
<div style="position:absolute;left:450px;top:590.3000000000001px;width:24.600000000000023px;height:7.2999999999999545px;background:#fbe5f8;border-radius:1.3px;"></div>
<div class="t" style="top:592.00px;font-size:5.0px;color:#e354d4;left:462.30px;transform:translateX(-50%);">Pending</div>
<div class="t" style="top:591.65px;font-size:5.7px;color:#3a3f4c;left:506.00px;">26,Jul 2024</div>
<div style="position:absolute;left:571.3px;top:588.4000000000001px;width:11.200000000000045px;height:11.599999999999909px;background:#e4f8f1;border-radius:1.5px;"></div>
<svg style="left:574.4px;top:591.50px" width="5" height="5" viewBox="0 0 10 10"><path d="M2 8 L2.4 6.2 L7 1.6 L8.4 3 L3.8 7.6 Z" fill="#21ce9e"/></svg>
<div style="position:absolute;left:586.8px;top:588.4000000000001px;width:11.200000000000045px;height:11.599999999999909px;background:#fee8e8;border-radius:1.5px;"></div>
<svg style="left:589.9px;top:591.30px" width="5" height="5.2" viewBox="0 0 10 10"><path d="M2 2.5 H8 M4 2.5 V1.2 H6 V2.5 M2.8 3.2 L3.3 9 H6.7 L7.2 3.2 Z" fill="none" stroke="#fb4242" stroke-width="1.1"/></svg>
<div class="t" style="top:520.98px;font-size:7.05px;color:#343842;-webkit-text-stroke:0.1px #343842;left:635.40px;">Sales By Country</div>
<div style="position:absolute;left:758.2px;top:519.6px;width:27.199999999999932px;height:11.0px;background:#f5f6f9;border-radius:2px;"></div>
<div class="t" style="top:522.40px;font-size:5.4px;color:#5e6680;left:771.80px;transform:translateX(-50%);">View All</div>
<div style="position:absolute;left:635.4px;top:541.4px;width:11.300000000000068px;height:10.799999999999955px;border:0.5px solid #eef0f5;border-radius:1.5px;background:#fff;"></div>
<svg style="left:637.4px;top:543.60px" width="7.4" height="6.4" viewBox="0 0 74 64"><rect width="74" height="64" rx="10" fill="#f5f5f5"/><g fill="#e8565e"><rect y="0.0" width="74" height="4.6"/><rect y="9.2" width="74" height="4.6"/><rect y="18.4" width="74" height="4.6"/><rect y="27.599999999999998" width="74" height="4.6"/><rect y="36.8" width="74" height="4.6"/><rect y="46.0" width="74" height="4.6"/><rect y="55.199999999999996" width="74" height="4.6"/></g><rect width="34" height="32" rx="8" fill="#4a5fc8"/></svg>
<div class="t" style="top:540.60px;font-size:6.0px;color:#2a2e38;left:654.00px;">United States</div>
<div class="t" style="top:542.45px;font-size:6.3px;color:#2a2e38;right:14.80px;">3<span style="margin:0 -0.08em">1</span>,672</div>
<div style="position:absolute;left:654.5px;top:550.0px;width:130.5px;height:3.599999999999909px;background:#f6f7fa;border-radius:1px;"></div>
<div style="position:absolute;left:655px;top:551.0999999999999px;width:115.60000000000002px;height:1.5px;background:#5c67f7;border-radius:1px;"></div>
<div style="position:absolute;left:635.4px;top:561.9px;width:11.300000000000068px;height:10.799999999999955px;border:0.5px solid #eef0f5;border-radius:1.5px;background:#fff;"></div>
<svg style="left:637.4px;top:564.10px" width="7.4" height="6.4" viewBox="0 0 74 64"><rect width="25" height="64" rx="8" fill="#4caa4c"/><rect x="24" width="26" height="64" fill="#f5f5f5"/><rect x="49" width="25" height="64" rx="8" fill="#e84848"/></svg>
<div class="t" style="top:561.10px;font-size:6.0px;color:#2a2e38;left:654.00px;">Italy</div>
<div class="t" style="top:562.95px;font-size:6.3px;color:#2a2e38;right:14.80px;">29,557</div>
<div style="position:absolute;left:654.5px;top:570.5px;width:130.5px;height:3.599999999999909px;background:#f6f7fa;border-radius:1px;"></div>
<div style="position:absolute;left:655px;top:571.5999999999999px;width:109.20000000000005px;height:1.5px;background:#e354d4;border-radius:1px;"></div>
<div style="position:absolute;left:635.4px;top:582.4px;width:11.300000000000068px;height:10.799999999999955px;border:0.5px solid #eef0f5;border-radius:1.5px;background:#fff;"></div>
<svg style="left:637.4px;top:584.60px" width="7.4" height="6.4" viewBox="0 0 74 64"><rect width="74" height="64" rx="8" fill="#d8403a"/><rect y="16" width="74" height="32" fill="#f5c030"/><rect x="14" y="24" width="10" height="14" fill="#c0504a"/></svg>
<div class="t" style="top:581.60px;font-size:6.0px;color:#2a2e38;left:654.00px;">Spain</div>
<div class="t" style="top:583.45px;font-size:6.3px;color:#2a2e38;right:14.80px;">24,562</div>
<div style="position:absolute;left:654.5px;top:591.0px;width:130.5px;height:3.599999999999909px;background:#f6f7fa;border-radius:1px;"></div>
<div style="position:absolute;left:655px;top:592.0999999999999px;width:103px;height:1.5px;background:#ff5d9f;border-radius:1px;"></div>
<div style="position:absolute;left:571px;top:70.5px;width:221px;height:72.5px;border-radius:3.5px;overflow:hidden;background:linear-gradient(28deg,#ff8d88 0%,#f680b0 32%,#d67bd4 60%,#b478e4 80%,#8a82f2 100%)">
<svg style="left:0;top:0" width="221" height="72.5" viewBox="0 0 221 72.5"><g fill="none" stroke="rgba(255,255,255,0.12)" stroke-width="0.6">
<path d="M70 0 C80 15 60 25 75 40 C85 50 70 60 80 72"/><path d="M90 0 C95 20 80 30 95 45 C105 55 95 65 100 72"/>
<path d="M160 0 C165 20 175 40 170 72"/><path d="M170 0 C175 20 185 40 180 72"/><path d="M180 0 C185 20 195 40 190 72"/><path d="M190 0 C195 20 205 40 200 72"/><path d="M200 0 C205 20 215 40 210 72"/>
<path d="M40 72 C50 55 60 45 55 30 C50 15 40 20 35 0"/></g>
<ellipse cx="150" cy="72" rx="60" ry="12" fill="rgba(255,120,150,0.15)"/></svg>
</div>
<div class="t" style="top:79.95px;font-size:11.3px;color:#fff;left:580.80px;-webkit-text-stroke:0.25px #fff;">Upgrade to get more</div>
<div class="t" style="top:100.23px;font-size:5.95px;color:#fff;left:580.80px;">Maximize sales insights. Optimize</div>
<div class="t" style="top:108.25px;font-size:6.1px;color:#fff;left:580.80px;">performance. Achieve success with pro.</div>
<div class="t" style="top:126.50px;font-size:5.8px;color:#fff;left:580.80px;-webkit-text-stroke:0.15px #fff;border-bottom:0.5px solid rgba(255,255,255,0.9);padding-bottom:0.5px;">Upgrade To Pro<svg style="position:relative;display:inline-block;vertical-align:0.2px;margin-left:1.2px" width="3.6" height="3.6" viewBox="0 0 10 10" preserveAspectRatio="none"><path d="M1,5 H9 M6.6,2.9 L9,5 L6.6,7.1" fill="none" stroke="#fff" stroke-width="1.81" stroke-linecap="round" stroke-linejoin="round"/></svg></div>
<svg style="left:0;top:0" width="800" height="600" viewBox="0 0 800 600">
<g>
<!-- right bags -->
<path d="M763 101 L773 100 L775 119.5 L762 120 Z" fill="#a9cdea"/>
<path d="M766 101 L780 97.5 L784 114.5 L770 117.5 Z" fill="#6aa4e6"/>
<path d="M768 101 C768 96 772 94 774 99 M773 99.5 C774 95 777 94 779 98" fill="none" stroke="#5a5a7a" stroke-width="0.6"/>
<!-- left bags -->
<path d="M710 123 L719.5 122 L721 141.5 L707.7 141 Z" fill="#f0b347"/>
<path d="M717 122 L729.5 121.5 L731 140 L718.5 141 Z" fill="#e8d3c6"/>
<path d="M718.5 122 C719 117 722 116 723 121 M724 121.5 C724.5 116.5 728 116 728.5 121.5" fill="none" stroke="#5a4a6a" stroke-width="0.6"/>
<!-- pants -->
<path d="M742 115 L758 114 C762 118 766 124 768 127 L765 130 C760 126 756 124 753 122 C756 128 768 134 776 138 L775 142 C765 139 752 134 746 128 C743 124 742 119 742 115 Z" fill="#1f2540"/>
<!-- shoes -->
<path d="M774 138 L779 140 L779 143 L773 142 Z" fill="#f2f2f4"/>
<path d="M765 126 L769 127 L768.5 131 L764.5 130 Z" fill="#f2f2f4"/>
<!-- arms -->
<path d="M739.5 97.5 C732 103 726 108.5 720.5 112.8 L722.6 117.8 C729 115 736 110 742.5 105.5 Z" fill="#f2dcc2"/>
<path d="M750 95.2 C756 94.2 761 93.4 766.8 92.6 L767.6 97 C762 97.8 757 99 752 100.8 Z" fill="#f2dcc2"/>
<!-- hands -->
<circle cx="720.8" cy="116.2" r="1.6" fill="#efb996"/>
<circle cx="767.6" cy="95" r="1.6" fill="#efb996"/>
<!-- torso -->
<path d="M737 97 C742 94 750 94 755 96 C758 103 759 110 759 116 C753 118 746 118 741 117 C739 110 737 103 737 97 Z" fill="#f4dfc6"/>
<!-- neck/head -->
<path d="M739.5 93 L745 93 L745 97 L740 97 Z" fill="#eab391"/>
<ellipse cx="741" cy="88.5" rx="5.8" ry="6.3" fill="#f3c3a2"/>
<path d="M735 85.5 C734.5 80 739 78 743.5 78.6 C747.5 79.2 749 82.5 747.6 87.5 C746.6 85.2 745.5 83.6 743 83.2 C740 82.8 737 83.6 735 85.5 Z" fill="#2b2a33"/>
<ellipse cx="738.2" cy="87.6" rx="0.5" ry="0.7" fill="#3a2a2a"/><ellipse cx="742.2" cy="87.6" rx="0.5" ry="0.7" fill="#3a2a2a"/>
<ellipse cx="747" cy="89" rx="1.1" ry="1.6" fill="#eab391"/>
<path d="M738 90.8 C739 92.6 741 92.4 741.6 90.8 Z" fill="#b04a48"/>
</g></svg>
<svg style="left:662.90px;top:10.50px" width="6.6" height="6.6" viewBox="0 0 24 24"><g fill="none" stroke="#5d6478" stroke-width="2.1" stroke-linecap="round" stroke-linejoin="round"><path d="M2 5h10M7 2.5v2.5M4 5c1 4 4 7 8 8.5M10 5c-1 4-4 7-8 9"/><path d="M12 21.5l4.5-10 4.5 10M13.5 18h6"/></g></svg>
<svg style="left:682.90px;top:10.30px" width="7" height="7" viewBox="0 0 24 24"><path d="M20.5 14.5A9 9 0 1 1 9.5 3.5a7.2 7.2 0 0 0 11 11z" fill="none" stroke="#5d6478" stroke-width="2.1" stroke-linejoin="round"/></svg>
<svg style="left:703.20px;top:10.40px" width="6.6" height="6.6" viewBox="0 0 24 24"><g fill="none" stroke="#5d6478" stroke-width="2.1" stroke-linejoin="round" stroke-linecap="round"><path d="M2 3h3l2 12h12l2-9H6"/><path d="M7 15v6M19 15v6"/></g></svg>
<div style="position:absolute;left:707.4px;top:6.4px;width:6.2px;height:6.2px;border-radius:50%;background:#9e5cf7"></div>
<div class="t" style="top:7.40px;font-size:4.6px;color:#fff;font-weight:700;left:710.50px;transform:translateX(-50%);">5</div>
<svg style="left:723.30px;top:10.30px" width="6.6" height="6.8" viewBox="0 0 24 24"><g fill="none" stroke="#5d6478" stroke-width="2.1" stroke-linejoin="round" stroke-linecap="round"><path d="M18 16.5V10.5a6 6 0 0 0-12 0v6l-2 2h16z"/><path d="M10 21.5h4"/></g></svg>
<div style="position:absolute;left:726.5px;top:8.5px;width:2.6px;height:2.6px;border-radius:50%;background:#ff5d9f"></div>
<svg style="left:743.50px;top:10.60px" width="6.2" height="6.2" viewBox="0 0 24 24"><g fill="none" stroke="#5d6478" stroke-width="2.5" stroke-linecap="round" stroke-linejoin="round"><path d="M9 9L4 4M4 8.5V4h4.5M15 9l5-5M20 8.5V4h-4.5M9 15l-5 5M4 15.5V20h4.5M15 15l5 5M20 15.5V20h-4.5"/></g></svg>
<div style="position:absolute;left:759.9px;top:7.8px;width:12px;height:11.6px;border-radius:1.5px;background:#2f5cf2;overflow:hidden">
<div style="position:absolute;left:1.5px;top:8.2px;width:9px;height:6px;border-radius:45% 45% 0 0;background:#f0b020"></div>
<div style="position:absolute;left:4.8px;top:6.8px;width:2.4px;height:2.5px;background:#e0a080"></div>
<div style="position:absolute;left:3.3px;top:2.4px;width:5.4px;height:5.6px;border-radius:50%;background:#f0b898"></div>
<div style="position:absolute;left:2.9px;top:1.3px;width:6.2px;height:3px;border-radius:50% 50% 30% 30%;background:#221e2a"></div>
</div>
<svg style="left:781.80px;top:10.40px" width="6.6" height="6.6" viewBox="0 0 24 24"><g fill="none" stroke="#5d6478" stroke-width="2.1" stroke-linejoin="round"><path d="M12 2l8.7 5v10L12 22l-8.7-5V7z"/><circle cx="12" cy="12" r="3.5"/></g></svg>
</body></html>
